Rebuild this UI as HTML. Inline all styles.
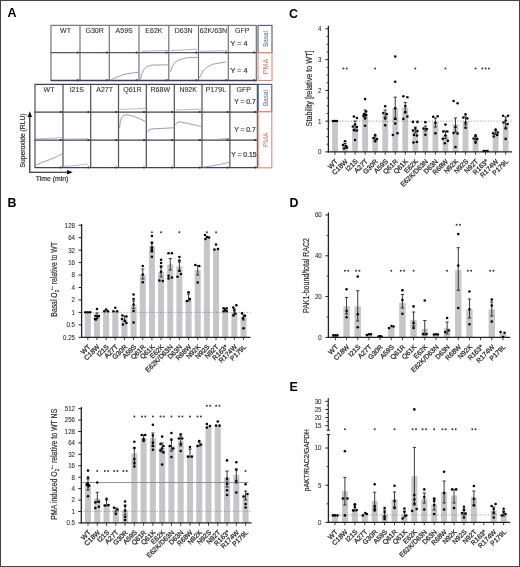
<!DOCTYPE html>
<html><head><meta charset="utf-8"><style>
html,body{margin:0;padding:0;background:#fff;width:520px;height:567px;overflow:hidden;}
svg{display:block;font-family:'Liberation Sans', sans-serif;will-change:transform;}

</style></head><body>
<svg width="520" height="567" viewBox="0 0 520 567">
<rect width="520" height="567" fill="#fff"/>
<rect x="0.50" y="0.50" width="519.00" height="566.00" fill="none" stroke="#444" stroke-width="1"/>
<text x="7.40" y="17.40" font-size="12.4" text-anchor="start" fill="#000" font-weight="bold">A</text>
<text x="7.60" y="207.10" font-size="12.4" text-anchor="start" fill="#000" font-weight="bold">B</text>
<text x="289.00" y="17.60" font-size="12.4" text-anchor="start" fill="#000" font-weight="bold">C</text>
<text x="289.40" y="207.30" font-size="12.4" text-anchor="start" fill="#000" font-weight="bold">D</text>
<text x="289.60" y="390.80" font-size="12.4" text-anchor="start" fill="#000" font-weight="bold">E</text>
<line x1="51.00" y1="25.40" x2="51.00" y2="80.50" stroke="#6e6e6e" stroke-width="1.15"/>
<line x1="80.00" y1="25.40" x2="80.00" y2="80.50" stroke="#6e6e6e" stroke-width="1.15"/>
<line x1="109.30" y1="25.40" x2="109.30" y2="80.50" stroke="#6e6e6e" stroke-width="1.15"/>
<line x1="139.00" y1="25.40" x2="139.00" y2="80.50" stroke="#6e6e6e" stroke-width="1.15"/>
<line x1="168.80" y1="25.40" x2="168.80" y2="80.50" stroke="#6e6e6e" stroke-width="1.15"/>
<line x1="198.50" y1="25.40" x2="198.50" y2="80.50" stroke="#6e6e6e" stroke-width="1.15"/>
<line x1="228.30" y1="25.40" x2="228.30" y2="80.50" stroke="#6e6e6e" stroke-width="1.15"/>
<line x1="256.30" y1="25.40" x2="256.30" y2="80.50" stroke="#6e6e6e" stroke-width="1.15"/>
<line x1="50.50" y1="25.40" x2="256.80" y2="25.40" stroke="#7a7a80" stroke-width="1.15"/>
<line x1="50.50" y1="52.60" x2="256.80" y2="52.60" stroke="#55586a" stroke-width="1.2"/>
<line x1="50.50" y1="80.50" x2="256.80" y2="80.50" stroke="#3a3d55" stroke-width="1.4"/>
<ellipse cx="77.70" cy="52.40" rx="1.2" ry="1.0" fill="#3a3a3a"/>
<ellipse cx="107.00" cy="52.40" rx="1.2" ry="1.0" fill="#3a3a3a"/>
<ellipse cx="136.70" cy="52.40" rx="1.2" ry="1.0" fill="#3a3a3a"/>
<ellipse cx="166.50" cy="52.40" rx="1.2" ry="1.0" fill="#3a3a3a"/>
<ellipse cx="196.20" cy="52.40" rx="1.2" ry="1.0" fill="#3a3a3a"/>
<ellipse cx="226.00" cy="52.40" rx="1.2" ry="1.0" fill="#3a3a3a"/>
<ellipse cx="254.00" cy="52.40" rx="1.2" ry="1.0" fill="#3a3a3a"/>
<ellipse cx="77.70" cy="80.30" rx="1.2" ry="1.0" fill="#3a3a3a"/>
<ellipse cx="107.00" cy="80.30" rx="1.2" ry="1.0" fill="#3a3a3a"/>
<ellipse cx="136.70" cy="80.30" rx="1.2" ry="1.0" fill="#3a3a3a"/>
<ellipse cx="166.50" cy="80.30" rx="1.2" ry="1.0" fill="#3a3a3a"/>
<ellipse cx="196.20" cy="80.30" rx="1.2" ry="1.0" fill="#3a3a3a"/>
<ellipse cx="226.00" cy="80.30" rx="1.2" ry="1.0" fill="#3a3a3a"/>
<ellipse cx="254.00" cy="80.30" rx="1.2" ry="1.0" fill="#3a3a3a"/>
<text x="65.50" y="33.00" font-size="7.0" text-anchor="middle" fill="#333" stroke="#333" stroke-width="0.1">WT</text>
<text x="94.65" y="33.00" font-size="7.0" text-anchor="middle" fill="#333" stroke="#333" stroke-width="0.1">G30R</text>
<text x="124.15" y="33.00" font-size="7.0" text-anchor="middle" fill="#333" stroke="#333" stroke-width="0.1">A59S</text>
<text x="153.90" y="33.00" font-size="7.0" text-anchor="middle" fill="#333" stroke="#333" stroke-width="0.1">E62K</text>
<text x="183.65" y="33.00" font-size="7.0" text-anchor="middle" fill="#333" stroke="#333" stroke-width="0.1">D63N</text>
<text x="213.40" y="33.00" font-size="7.0" text-anchor="middle" fill="#333" stroke="#333" stroke-width="0.1">62K/63N</text>
<text x="242.30" y="33.00" font-size="7.0" text-anchor="middle" fill="#333" stroke="#333" stroke-width="0.1">GFP</text>
<text x="230.60" y="46.00" font-size="7.2" text-anchor="start" fill="#333" stroke="#333" stroke-width="0.2">Y = 4</text>
<text x="230.60" y="73.00" font-size="7.2" text-anchor="start" fill="#333" stroke="#333" stroke-width="0.2">Y = 4</text>
<line x1="35.00" y1="84.40" x2="35.00" y2="167.60" stroke="#555" stroke-width="1.25"/>
<line x1="63.00" y1="84.40" x2="63.00" y2="167.60" stroke="#555" stroke-width="1.25"/>
<line x1="90.70" y1="84.40" x2="90.70" y2="167.60" stroke="#555" stroke-width="1.25"/>
<line x1="118.50" y1="84.40" x2="118.50" y2="167.60" stroke="#555" stroke-width="1.25"/>
<line x1="146.30" y1="84.40" x2="146.30" y2="167.60" stroke="#555" stroke-width="1.25"/>
<line x1="174.30" y1="84.40" x2="174.30" y2="167.60" stroke="#555" stroke-width="1.25"/>
<line x1="202.00" y1="84.40" x2="202.00" y2="167.60" stroke="#555" stroke-width="1.25"/>
<line x1="229.90" y1="84.40" x2="229.90" y2="167.60" stroke="#555" stroke-width="1.25"/>
<line x1="257.40" y1="84.40" x2="257.40" y2="167.60" stroke="#555" stroke-width="1.25"/>
<line x1="34.50" y1="84.40" x2="257.90" y2="84.40" stroke="#40435a" stroke-width="1.3"/>
<line x1="34.50" y1="112.10" x2="257.90" y2="112.10" stroke="#40435a" stroke-width="1.3"/>
<line x1="34.50" y1="140.20" x2="257.90" y2="140.20" stroke="#40435a" stroke-width="1.3"/>
<line x1="34.50" y1="167.60" x2="257.90" y2="167.60" stroke="#40435a" stroke-width="1.3"/>
<ellipse cx="60.70" cy="111.90" rx="1.2" ry="1.0" fill="#3a3a3a"/>
<ellipse cx="88.40" cy="111.90" rx="1.2" ry="1.0" fill="#3a3a3a"/>
<ellipse cx="116.20" cy="111.90" rx="1.2" ry="1.0" fill="#3a3a3a"/>
<ellipse cx="144.00" cy="111.90" rx="1.2" ry="1.0" fill="#3a3a3a"/>
<ellipse cx="172.00" cy="111.90" rx="1.2" ry="1.0" fill="#3a3a3a"/>
<ellipse cx="199.70" cy="111.90" rx="1.2" ry="1.0" fill="#3a3a3a"/>
<ellipse cx="227.60" cy="111.90" rx="1.2" ry="1.0" fill="#3a3a3a"/>
<ellipse cx="255.10" cy="111.90" rx="1.2" ry="1.0" fill="#3a3a3a"/>
<ellipse cx="60.70" cy="140.00" rx="1.2" ry="1.0" fill="#3a3a3a"/>
<ellipse cx="88.40" cy="140.00" rx="1.2" ry="1.0" fill="#3a3a3a"/>
<ellipse cx="116.20" cy="140.00" rx="1.2" ry="1.0" fill="#3a3a3a"/>
<ellipse cx="144.00" cy="140.00" rx="1.2" ry="1.0" fill="#3a3a3a"/>
<ellipse cx="172.00" cy="140.00" rx="1.2" ry="1.0" fill="#3a3a3a"/>
<ellipse cx="199.70" cy="140.00" rx="1.2" ry="1.0" fill="#3a3a3a"/>
<ellipse cx="227.60" cy="140.00" rx="1.2" ry="1.0" fill="#3a3a3a"/>
<ellipse cx="255.10" cy="140.00" rx="1.2" ry="1.0" fill="#3a3a3a"/>
<ellipse cx="60.70" cy="167.40" rx="1.2" ry="1.0" fill="#3a3a3a"/>
<ellipse cx="88.40" cy="167.40" rx="1.2" ry="1.0" fill="#3a3a3a"/>
<ellipse cx="116.20" cy="167.40" rx="1.2" ry="1.0" fill="#3a3a3a"/>
<ellipse cx="144.00" cy="167.40" rx="1.2" ry="1.0" fill="#3a3a3a"/>
<ellipse cx="172.00" cy="167.40" rx="1.2" ry="1.0" fill="#3a3a3a"/>
<ellipse cx="199.70" cy="167.40" rx="1.2" ry="1.0" fill="#3a3a3a"/>
<ellipse cx="227.60" cy="167.40" rx="1.2" ry="1.0" fill="#3a3a3a"/>
<ellipse cx="255.10" cy="167.40" rx="1.2" ry="1.0" fill="#3a3a3a"/>
<text x="49.00" y="92.00" font-size="7.0" text-anchor="middle" fill="#333" stroke="#333" stroke-width="0.1">WT</text>
<text x="76.85" y="92.00" font-size="7.0" text-anchor="middle" fill="#333" stroke="#333" stroke-width="0.1">I21S</text>
<text x="104.60" y="92.00" font-size="7.0" text-anchor="middle" fill="#333" stroke="#333" stroke-width="0.1">A27T</text>
<text x="132.40" y="92.00" font-size="7.0" text-anchor="middle" fill="#333" stroke="#333" stroke-width="0.1">Q61R</text>
<text x="160.30" y="92.00" font-size="7.0" text-anchor="middle" fill="#333" stroke="#333" stroke-width="0.1">R68W</text>
<text x="188.15" y="92.00" font-size="7.0" text-anchor="middle" fill="#333" stroke="#333" stroke-width="0.1">N92K</text>
<text x="215.95" y="92.00" font-size="7.0" text-anchor="middle" fill="#333" stroke="#333" stroke-width="0.1">P179L</text>
<text x="243.65" y="92.00" font-size="7.0" text-anchor="middle" fill="#333" stroke="#333" stroke-width="0.1">GFP</text>
<text x="255.80" y="104.30" font-size="6.8" text-anchor="end" fill="#333" stroke="#333" stroke-width="0.2">Y = 0.7</text>
<text x="255.80" y="131.80" font-size="6.8" text-anchor="end" fill="#333" stroke="#333" stroke-width="0.2">Y = 0.7</text>
<text x="256.60" y="157.20" font-size="6.8" text-anchor="end" fill="#333" stroke="#333" stroke-width="0.2">Y = 0.15</text>
<rect x="258.00" y="25.40" width="14.00" height="27.20" fill="none" stroke="#4a5890" stroke-width="1.1"/>
<text x="267.70" y="39.00" font-size="7.6" text-anchor="middle" fill="#5f6a98" transform="rotate(-90 267.70 39.00)" textLength="15.6" lengthAdjust="spacingAndGlyphs">Basal</text>
<rect x="258.00" y="52.60" width="14.00" height="27.90" fill="none" stroke="#e4887a" stroke-width="1.1"/>
<text x="267.70" y="66.55" font-size="7.6" text-anchor="middle" fill="#ec6f58" transform="rotate(-90 267.70 66.55)" textLength="15.4" lengthAdjust="spacingAndGlyphs">PMA</text>
<rect x="258.20" y="84.40" width="13.60" height="27.20" fill="none" stroke="#4a5890" stroke-width="1.1"/>
<text x="267.70" y="98.00" font-size="7.6" text-anchor="middle" fill="#5f6a98" transform="rotate(-90 267.70 98.00)" textLength="15.8" lengthAdjust="spacingAndGlyphs">Basal</text>
<rect x="258.20" y="111.60" width="13.60" height="56.20" fill="none" stroke="#e4887a" stroke-width="1.1"/>
<text x="267.70" y="139.70" font-size="7.6" text-anchor="middle" fill="#ec6f58" transform="rotate(-90 267.70 139.70)" textLength="14.6" lengthAdjust="spacingAndGlyphs">PMA</text>
<path d="M110.5,80.0 L116.0,77.5 L122.0,75.0 L128.0,73.5 L134.0,72.8 L138.5,72.2" fill="none" stroke="#9a9dbd" stroke-width="1.0"/>
<path d="M140.5,79.5 L141.8,74.0 L143.5,70.0 L146.0,67.2 L149.5,65.6 L154.0,65.0 L168.0,64.9" fill="none" stroke="#9a9dbd" stroke-width="1.0"/>
<path d="M142.0,51.3 L150.0,51.0 L160.0,50.7 L168.0,50.5" fill="none" stroke="#9a9dbd" stroke-width="0.8"/>
<path d="M170.5,72.0 L172.0,67.0 L175.0,62.5 L179.0,60.0 L184.0,58.3 L190.0,57.5 L198.0,57.3" fill="none" stroke="#9a9dbd" stroke-width="1.0"/>
<path d="M171.0,50.6 L180.0,50.1 L190.0,49.6 L197.0,49.2" fill="none" stroke="#9a9dbd" stroke-width="0.8"/>
<path d="M199.2,78.0 L201.0,74.5 L203.0,71.0 L205.5,68.5 L208.0,66.6 L212.7,64.3 L217.0,63.4 L222.0,62.6 L226.0,62.0" fill="none" stroke="#9a9dbd" stroke-width="1.0"/>
<path d="M200.0,51.3 L210.0,51.1 L220.0,50.9 L227.0,50.8" fill="none" stroke="#9a9dbd" stroke-width="0.8"/>
<path d="M36.0,165.0 L42.0,162.5 L50.0,159.5 L57.0,156.5 L62.5,153.5" fill="none" stroke="#9a9dbd" stroke-width="1.0"/>
<path d="M36.0,138.8 L45.0,138.5 L55.0,138.0 L60.0,137.3 L62.5,138.5" fill="none" stroke="#9a9dbd" stroke-width="0.7"/>
<path d="M64.0,166.2 L72.0,165.8 L80.0,165.0 L88.0,164.0" fill="none" stroke="#9a9dbd" stroke-width="0.7"/>
<path d="M64.0,139.2 L75.0,139.0 L88.0,138.6" fill="none" stroke="#9a9dbd" stroke-width="0.7"/>
<path d="M119.5,128.0 L120.3,122.0 L121.5,117.5 L124.0,115.2 L127.0,114.7 L132.0,116.0 L138.0,118.0 L145.5,121.5" fill="none" stroke="#9a9dbd" stroke-width="1.0"/>
<path d="M120.0,109.5 L130.0,109.0 L140.0,108.5 L146.0,108.4" fill="none" stroke="#9a9dbd" stroke-width="0.7"/>
<path d="M147.5,132.0 L149.0,130.0 L151.0,129.0 L160.0,128.5 L173.5,127.8" fill="none" stroke="#9a9dbd" stroke-width="1.0"/>
<path d="M175.5,124.5 L177.0,122.5 L180.0,121.8 L188.0,123.5 L196.0,125.3 L201.5,126.5" fill="none" stroke="#9a9dbd" stroke-width="1.0"/>
<path d="M176.0,110.0 L186.0,109.5 L196.0,109.2 L201.0,109.2" fill="none" stroke="#9a9dbd" stroke-width="0.7"/>
<path d="M203.5,167.0 L210.0,166.2 L218.0,164.8 L225.0,163.3 L229.0,162.4" fill="none" stroke="#9a9dbd" stroke-width="0.9"/>
<path d="M218.0,139.2 L224.0,138.8 L229.0,138.6" fill="none" stroke="#9a9dbd" stroke-width="0.8"/>
<line x1="29.80" y1="172.50" x2="29.80" y2="116.50" stroke="#111" stroke-width="1.1"/>
<path d="M27.6,117 L29.8,111.2 L32,117 Z" fill="#111"/>
<line x1="29.30" y1="172.30" x2="67.50" y2="172.30" stroke="#111" stroke-width="1.1"/>
<path d="M67,170.1 L72.8,172.3 L67,174.5 Z" fill="#111"/>
<text x="24.60" y="140.50" font-size="7.0" text-anchor="middle" fill="#333" transform="rotate(-90 24.60 140.50)" textLength="54" lengthAdjust="spacingAndGlyphs" stroke="#333" stroke-width="0.2">Superoxide (RLU)</text>
<text x="52.00" y="180.90" font-size="7.0" text-anchor="middle" fill="#333" textLength="32.5" lengthAdjust="spacingAndGlyphs" stroke="#333" stroke-width="0.2">Time (min)</text>
<rect x="84.80" y="312.40" width="6.00" height="24.90" fill="#c6c6c9" stroke="none" stroke-width="1"/>
<rect x="93.96" y="315.96" width="6.00" height="21.34" fill="#c6c6c9" stroke="none" stroke-width="1"/>
<rect x="103.12" y="311.18" width="6.00" height="26.12" fill="#c6c6c9" stroke="none" stroke-width="1"/>
<rect x="112.28" y="311.18" width="6.00" height="26.12" fill="#c6c6c9" stroke="none" stroke-width="1"/>
<rect x="121.44" y="318.30" width="6.00" height="19.00" fill="#c6c6c9" stroke="none" stroke-width="1"/>
<rect x="130.60" y="305.12" width="6.00" height="32.18" fill="#c6c6c9" stroke="none" stroke-width="1"/>
<rect x="139.76" y="274.61" width="6.00" height="62.69" fill="#c6c6c9" stroke="none" stroke-width="1"/>
<rect x="148.92" y="246.14" width="6.00" height="91.16" fill="#c6c6c9" stroke="none" stroke-width="1"/>
<rect x="158.08" y="271.96" width="6.00" height="65.34" fill="#c6c6c9" stroke="none" stroke-width="1"/>
<rect x="167.24" y="264.37" width="6.00" height="72.93" fill="#c6c6c9" stroke="none" stroke-width="1"/>
<rect x="176.40" y="266.33" width="6.00" height="70.97" fill="#c6c6c9" stroke="none" stroke-width="1"/>
<rect x="185.56" y="299.95" width="6.00" height="37.35" fill="#c6c6c9" stroke="none" stroke-width="1"/>
<rect x="194.72" y="270.00" width="6.00" height="67.30" fill="#c6c6c9" stroke="none" stroke-width="1"/>
<rect x="203.88" y="238.27" width="6.00" height="99.03" fill="#c6c6c9" stroke="none" stroke-width="1"/>
<rect x="213.04" y="249.60" width="6.00" height="87.70" fill="#c6c6c9" stroke="none" stroke-width="1"/>
<rect x="222.20" y="309.89" width="6.00" height="27.41" fill="#c6c6c9" stroke="none" stroke-width="1"/>
<rect x="231.36" y="312.40" width="6.00" height="24.90" fill="#c6c6c9" stroke="none" stroke-width="1"/>
<rect x="240.52" y="316.63" width="6.00" height="20.67" fill="#c6c6c9" stroke="none" stroke-width="1"/>
<line x1="81.60" y1="312.40" x2="250.50" y2="312.40" stroke="#888" stroke-width="0.8" stroke-dasharray="1.2,1.6"/>
<circle cx="85.40" cy="312.30" r="1.28" fill="#000"/>
<circle cx="87.80" cy="312.30" r="1.28" fill="#000"/>
<circle cx="90.20" cy="312.30" r="1.28" fill="#000"/>
<line x1="96.96" y1="313.00" x2="96.96" y2="318.50" stroke="#222" stroke-width="0.9"/>
<line x1="95.36" y1="313.00" x2="98.56" y2="313.00" stroke="#222" stroke-width="0.9"/>
<line x1="95.36" y1="318.50" x2="98.56" y2="318.50" stroke="#222" stroke-width="0.9"/>
<circle cx="96.96" cy="309.00" r="1.28" fill="#000"/>
<circle cx="95.46" cy="315.70" r="1.28" fill="#000"/>
<circle cx="97.46" cy="316.50" r="1.28" fill="#000"/>
<circle cx="98.96" cy="316.00" r="1.28" fill="#000"/>
<circle cx="94.96" cy="319.00" r="1.28" fill="#000"/>
<circle cx="95.96" cy="319.50" r="1.28" fill="#000"/>
<circle cx="106.12" cy="309.50" r="1.28" fill="#000"/>
<circle cx="104.32" cy="311.20" r="1.28" fill="#000"/>
<circle cx="107.92" cy="311.20" r="1.28" fill="#000"/>
<circle cx="115.28" cy="307.80" r="1.28" fill="#000"/>
<circle cx="113.48" cy="311.20" r="1.28" fill="#000"/>
<circle cx="117.08" cy="311.20" r="1.28" fill="#000"/>
<line x1="124.44" y1="316.00" x2="124.44" y2="321.00" stroke="#222" stroke-width="0.9"/>
<line x1="122.84" y1="316.00" x2="126.04" y2="316.00" stroke="#222" stroke-width="0.9"/>
<line x1="122.84" y1="321.00" x2="126.04" y2="321.00" stroke="#222" stroke-width="0.9"/>
<circle cx="122.44" cy="315.50" r="1.28" fill="#000"/>
<circle cx="126.44" cy="316.50" r="1.28" fill="#000"/>
<circle cx="121.94" cy="319.00" r="1.28" fill="#000"/>
<circle cx="124.94" cy="321.00" r="1.28" fill="#000"/>
<circle cx="122.94" cy="324.50" r="1.28" fill="#000"/>
<circle cx="126.44" cy="323.00" r="1.28" fill="#000"/>
<line x1="133.60" y1="301.00" x2="133.60" y2="308.50" stroke="#222" stroke-width="0.9"/>
<line x1="132.00" y1="301.00" x2="135.20" y2="301.00" stroke="#222" stroke-width="0.9"/>
<line x1="132.00" y1="308.50" x2="135.20" y2="308.50" stroke="#222" stroke-width="0.9"/>
<circle cx="133.60" cy="294.50" r="1.28" fill="#000"/>
<circle cx="133.60" cy="299.00" r="1.28" fill="#000"/>
<circle cx="133.60" cy="304.60" r="1.28" fill="#000"/>
<circle cx="133.60" cy="311.00" r="1.28" fill="#000"/>
<circle cx="133.60" cy="322.50" r="1.28" fill="#000"/>
<line x1="142.76" y1="269.00" x2="142.76" y2="279.00" stroke="#222" stroke-width="0.9"/>
<line x1="141.16" y1="269.00" x2="144.36" y2="269.00" stroke="#222" stroke-width="0.9"/>
<line x1="141.16" y1="279.00" x2="144.36" y2="279.00" stroke="#222" stroke-width="0.9"/>
<circle cx="142.76" cy="266.00" r="1.28" fill="#000"/>
<circle cx="142.76" cy="274.50" r="1.28" fill="#000"/>
<circle cx="142.76" cy="282.20" r="1.28" fill="#000"/>
<line x1="151.92" y1="242.00" x2="151.92" y2="252.00" stroke="#222" stroke-width="0.9"/>
<line x1="150.32" y1="242.00" x2="153.52" y2="242.00" stroke="#222" stroke-width="0.9"/>
<line x1="150.32" y1="252.00" x2="153.52" y2="252.00" stroke="#222" stroke-width="0.9"/>
<circle cx="151.92" cy="236.00" r="1.28" fill="#000"/>
<circle cx="151.92" cy="243.00" r="1.28" fill="#000"/>
<circle cx="151.92" cy="247.50" r="1.28" fill="#000"/>
<circle cx="151.92" cy="249.50" r="1.28" fill="#000"/>
<circle cx="151.92" cy="251.00" r="1.28" fill="#000"/>
<circle cx="151.92" cy="256.70" r="1.28" fill="#000"/>
<line x1="161.08" y1="266.00" x2="161.08" y2="277.00" stroke="#222" stroke-width="0.9"/>
<line x1="159.48" y1="266.00" x2="162.68" y2="266.00" stroke="#222" stroke-width="0.9"/>
<line x1="159.48" y1="277.00" x2="162.68" y2="277.00" stroke="#222" stroke-width="0.9"/>
<circle cx="161.08" cy="259.80" r="1.28" fill="#000"/>
<circle cx="161.08" cy="263.00" r="1.28" fill="#000"/>
<circle cx="161.08" cy="266.70" r="1.28" fill="#000"/>
<circle cx="161.08" cy="271.70" r="1.28" fill="#000"/>
<circle cx="159.38" cy="280.50" r="1.28" fill="#000"/>
<circle cx="162.78" cy="281.00" r="1.28" fill="#000"/>
<line x1="170.24" y1="258.50" x2="170.24" y2="270.00" stroke="#222" stroke-width="0.9"/>
<line x1="168.64" y1="258.50" x2="171.84" y2="258.50" stroke="#222" stroke-width="0.9"/>
<line x1="168.64" y1="270.00" x2="171.84" y2="270.00" stroke="#222" stroke-width="0.9"/>
<circle cx="168.54" cy="253.30" r="1.28" fill="#000"/>
<circle cx="171.94" cy="253.30" r="1.28" fill="#000"/>
<circle cx="168.54" cy="275.80" r="1.28" fill="#000"/>
<circle cx="168.54" cy="278.50" r="1.28" fill="#000"/>
<circle cx="171.94" cy="277.50" r="1.28" fill="#000"/>
<line x1="179.40" y1="262.00" x2="179.40" y2="271.00" stroke="#222" stroke-width="0.9"/>
<line x1="177.80" y1="262.00" x2="181.00" y2="262.00" stroke="#222" stroke-width="0.9"/>
<line x1="177.80" y1="271.00" x2="181.00" y2="271.00" stroke="#222" stroke-width="0.9"/>
<circle cx="179.40" cy="257.00" r="1.28" fill="#000"/>
<circle cx="179.40" cy="260.50" r="1.28" fill="#000"/>
<circle cx="179.40" cy="270.70" r="1.28" fill="#000"/>
<circle cx="177.50" cy="276.70" r="1.28" fill="#000"/>
<circle cx="181.00" cy="274.00" r="1.28" fill="#000"/>
<line x1="188.56" y1="294.00" x2="188.56" y2="301.00" stroke="#222" stroke-width="0.9"/>
<line x1="186.96" y1="294.00" x2="190.16" y2="294.00" stroke="#222" stroke-width="0.9"/>
<line x1="186.96" y1="301.00" x2="190.16" y2="301.00" stroke="#222" stroke-width="0.9"/>
<circle cx="188.56" cy="292.30" r="1.28" fill="#000"/>
<circle cx="186.86" cy="301.00" r="1.28" fill="#000"/>
<circle cx="189.86" cy="299.00" r="1.28" fill="#000"/>
<line x1="197.72" y1="265.50" x2="197.72" y2="275.00" stroke="#222" stroke-width="0.9"/>
<line x1="196.12" y1="265.50" x2="199.32" y2="265.50" stroke="#222" stroke-width="0.9"/>
<line x1="196.12" y1="275.00" x2="199.32" y2="275.00" stroke="#222" stroke-width="0.9"/>
<circle cx="195.32" cy="265.00" r="1.28" fill="#000"/>
<circle cx="199.32" cy="266.00" r="1.28" fill="#000"/>
<circle cx="197.72" cy="282.50" r="1.28" fill="#000"/>
<circle cx="204.98" cy="235.00" r="1.28" fill="#000"/>
<circle cx="206.98" cy="237.00" r="1.28" fill="#000"/>
<circle cx="208.98" cy="237.50" r="1.28" fill="#000"/>
<circle cx="205.48" cy="239.00" r="1.28" fill="#000"/>
<circle cx="216.04" cy="244.50" r="1.28" fill="#000"/>
<circle cx="214.44" cy="249.50" r="1.28" fill="#000"/>
<circle cx="217.94" cy="249.00" r="1.28" fill="#000"/>
<circle cx="223.70" cy="308.20" r="1.28" fill="#000"/>
<circle cx="226.70" cy="308.20" r="1.28" fill="#000"/>
<circle cx="225.20" cy="309.80" r="1.28" fill="#000"/>
<circle cx="223.70" cy="311.30" r="1.28" fill="#000"/>
<circle cx="226.70" cy="311.30" r="1.28" fill="#000"/>
<line x1="234.36" y1="309.00" x2="234.36" y2="314.00" stroke="#222" stroke-width="0.9"/>
<line x1="232.76" y1="309.00" x2="235.96" y2="309.00" stroke="#222" stroke-width="0.9"/>
<line x1="232.76" y1="314.00" x2="235.96" y2="314.00" stroke="#222" stroke-width="0.9"/>
<circle cx="236.36" cy="305.20" r="1.28" fill="#000"/>
<circle cx="233.36" cy="307.60" r="1.28" fill="#000"/>
<circle cx="234.36" cy="310.50" r="1.28" fill="#000"/>
<circle cx="235.36" cy="313.70" r="1.28" fill="#000"/>
<circle cx="233.36" cy="315.50" r="1.28" fill="#000"/>
<line x1="243.52" y1="315.00" x2="243.52" y2="320.00" stroke="#222" stroke-width="0.9"/>
<line x1="241.92" y1="315.00" x2="245.12" y2="315.00" stroke="#222" stroke-width="0.9"/>
<line x1="241.92" y1="320.00" x2="245.12" y2="320.00" stroke="#222" stroke-width="0.9"/>
<circle cx="242.02" cy="313.30" r="1.28" fill="#000"/>
<circle cx="245.02" cy="315.80" r="1.28" fill="#000"/>
<circle cx="243.02" cy="318.20" r="1.28" fill="#000"/>
<circle cx="243.52" cy="328.30" r="1.28" fill="#000"/>
<line x1="81.60" y1="224.00" x2="81.60" y2="337.90" stroke="#222" stroke-width="1.3"/>
<line x1="81.00" y1="337.30" x2="250.50" y2="337.30" stroke="#222" stroke-width="1.2"/>
<line x1="78.60" y1="337.30" x2="81.60" y2="337.30" stroke="#222" stroke-width="1.0"/>
<text x="75.00" y="339.70" font-size="7.3" text-anchor="end" fill="#333" textLength="11.93" lengthAdjust="spacingAndGlyphs" stroke="#333" stroke-width="0.1">0.25</text>
<line x1="78.60" y1="324.85" x2="81.60" y2="324.85" stroke="#222" stroke-width="1.0"/>
<text x="75.00" y="327.25" font-size="7.3" text-anchor="end" fill="#333" textLength="8.52" lengthAdjust="spacingAndGlyphs" stroke="#333" stroke-width="0.1">0.5</text>
<line x1="78.60" y1="312.40" x2="81.60" y2="312.40" stroke="#222" stroke-width="1.0"/>
<text x="75.00" y="314.80" font-size="7.3" text-anchor="end" fill="#333" textLength="3.41" lengthAdjust="spacingAndGlyphs" stroke="#333" stroke-width="0.1">1</text>
<line x1="78.60" y1="299.95" x2="81.60" y2="299.95" stroke="#222" stroke-width="1.0"/>
<text x="75.00" y="302.35" font-size="7.3" text-anchor="end" fill="#333" textLength="3.41" lengthAdjust="spacingAndGlyphs" stroke="#333" stroke-width="0.1">2</text>
<line x1="78.60" y1="287.50" x2="81.60" y2="287.50" stroke="#222" stroke-width="1.0"/>
<text x="75.00" y="289.90" font-size="7.3" text-anchor="end" fill="#333" textLength="3.41" lengthAdjust="spacingAndGlyphs" stroke="#333" stroke-width="0.1">4</text>
<line x1="78.60" y1="275.05" x2="81.60" y2="275.05" stroke="#222" stroke-width="1.0"/>
<text x="75.00" y="277.45" font-size="7.3" text-anchor="end" fill="#333" textLength="3.41" lengthAdjust="spacingAndGlyphs" stroke="#333" stroke-width="0.1">8</text>
<line x1="78.60" y1="262.60" x2="81.60" y2="262.60" stroke="#222" stroke-width="1.0"/>
<text x="75.00" y="265.00" font-size="7.3" text-anchor="end" fill="#333" textLength="6.82" lengthAdjust="spacingAndGlyphs" stroke="#333" stroke-width="0.1">16</text>
<line x1="78.60" y1="250.15" x2="81.60" y2="250.15" stroke="#222" stroke-width="1.0"/>
<text x="75.00" y="252.55" font-size="7.3" text-anchor="end" fill="#333" textLength="6.82" lengthAdjust="spacingAndGlyphs" stroke="#333" stroke-width="0.1">32</text>
<line x1="78.60" y1="237.70" x2="81.60" y2="237.70" stroke="#222" stroke-width="1.0"/>
<text x="75.00" y="240.10" font-size="7.3" text-anchor="end" fill="#333" textLength="6.82" lengthAdjust="spacingAndGlyphs" stroke="#333" stroke-width="0.1">64</text>
<line x1="78.60" y1="225.25" x2="81.60" y2="225.25" stroke="#222" stroke-width="1.0"/>
<text x="75.00" y="227.65" font-size="7.3" text-anchor="end" fill="#333" textLength="10.23" lengthAdjust="spacingAndGlyphs" stroke="#333" stroke-width="0.1">128</text>
<line x1="87.80" y1="337.30" x2="87.80" y2="340.10" stroke="#222" stroke-width="0.9"/>
<line x1="96.96" y1="337.30" x2="96.96" y2="340.10" stroke="#222" stroke-width="0.9"/>
<line x1="106.12" y1="337.30" x2="106.12" y2="340.10" stroke="#222" stroke-width="0.9"/>
<line x1="115.28" y1="337.30" x2="115.28" y2="340.10" stroke="#222" stroke-width="0.9"/>
<line x1="124.44" y1="337.30" x2="124.44" y2="340.10" stroke="#222" stroke-width="0.9"/>
<line x1="133.60" y1="337.30" x2="133.60" y2="340.10" stroke="#222" stroke-width="0.9"/>
<line x1="142.76" y1="337.30" x2="142.76" y2="340.10" stroke="#222" stroke-width="0.9"/>
<line x1="151.92" y1="337.30" x2="151.92" y2="340.10" stroke="#222" stroke-width="0.9"/>
<line x1="161.08" y1="337.30" x2="161.08" y2="340.10" stroke="#222" stroke-width="0.9"/>
<line x1="170.24" y1="337.30" x2="170.24" y2="340.10" stroke="#222" stroke-width="0.9"/>
<line x1="179.40" y1="337.30" x2="179.40" y2="340.10" stroke="#222" stroke-width="0.9"/>
<line x1="188.56" y1="337.30" x2="188.56" y2="340.10" stroke="#222" stroke-width="0.9"/>
<line x1="197.72" y1="337.30" x2="197.72" y2="340.10" stroke="#222" stroke-width="0.9"/>
<line x1="206.88" y1="337.30" x2="206.88" y2="340.10" stroke="#222" stroke-width="0.9"/>
<line x1="216.04" y1="337.30" x2="216.04" y2="340.10" stroke="#222" stroke-width="0.9"/>
<line x1="225.20" y1="337.30" x2="225.20" y2="340.10" stroke="#222" stroke-width="0.9"/>
<line x1="234.36" y1="337.30" x2="234.36" y2="340.10" stroke="#222" stroke-width="0.9"/>
<line x1="243.52" y1="337.30" x2="243.52" y2="340.10" stroke="#222" stroke-width="0.9"/>
<text x="91.00" y="347.30" font-size="6.8" text-anchor="end" fill="#333" transform="rotate(-45 91.00 347.30)" stroke="#333" stroke-width="0.28">WT</text>
<text x="100.16" y="347.30" font-size="6.8" text-anchor="end" fill="#333" transform="rotate(-45 100.16 347.30)" stroke="#333" stroke-width="0.28">C18W</text>
<text x="109.32" y="347.30" font-size="6.8" text-anchor="end" fill="#333" transform="rotate(-45 109.32 347.30)" stroke="#333" stroke-width="0.28">I21S</text>
<text x="118.48" y="347.30" font-size="6.8" text-anchor="end" fill="#333" transform="rotate(-45 118.48 347.30)" stroke="#333" stroke-width="0.28">A27T</text>
<text x="127.64" y="347.30" font-size="6.8" text-anchor="end" fill="#333" transform="rotate(-45 127.64 347.30)" stroke="#333" stroke-width="0.28">G30R</text>
<text x="136.80" y="347.30" font-size="6.8" text-anchor="end" fill="#333" transform="rotate(-45 136.80 347.30)" stroke="#333" stroke-width="0.28">A59S</text>
<text x="145.96" y="347.30" font-size="6.8" text-anchor="end" fill="#333" transform="rotate(-45 145.96 347.30)" stroke="#333" stroke-width="0.28">Q61R</text>
<text x="155.12" y="347.30" font-size="6.8" text-anchor="end" fill="#333" transform="rotate(-45 155.12 347.30)" stroke="#333" stroke-width="0.28">Q61K</text>
<text x="164.28" y="347.30" font-size="6.8" text-anchor="end" fill="#333" transform="rotate(-45 164.28 347.30)" stroke="#333" stroke-width="0.28">E62K</text>
<text x="173.44" y="347.30" font-size="6.8" text-anchor="end" fill="#333" transform="rotate(-45 173.44 347.30)" stroke="#333" stroke-width="0.28">E62K/D63N</text>
<text x="182.60" y="347.30" font-size="6.8" text-anchor="end" fill="#333" transform="rotate(-45 182.60 347.30)" stroke="#333" stroke-width="0.28">D63N</text>
<text x="191.76" y="347.30" font-size="6.8" text-anchor="end" fill="#333" transform="rotate(-45 191.76 347.30)" stroke="#333" stroke-width="0.28">R68W</text>
<text x="200.92" y="347.30" font-size="6.8" text-anchor="end" fill="#333" transform="rotate(-45 200.92 347.30)" stroke="#333" stroke-width="0.28">N92K</text>
<text x="210.08" y="347.30" font-size="6.8" text-anchor="end" fill="#333" transform="rotate(-45 210.08 347.30)" stroke="#333" stroke-width="0.28">N92S</text>
<text x="219.24" y="347.30" font-size="6.8" text-anchor="end" fill="#333" transform="rotate(-45 219.24 347.30)" stroke="#333" stroke-width="0.28">N92T</text>
<text x="228.40" y="347.30" font-size="6.8" text-anchor="end" fill="#333" transform="rotate(-45 228.40 347.30)" stroke="#333" stroke-width="0.28">R163*</text>
<text x="237.56" y="347.30" font-size="6.8" text-anchor="end" fill="#333" transform="rotate(-45 237.56 347.30)" stroke="#333" stroke-width="0.28">R174W</text>
<text x="246.72" y="347.30" font-size="6.8" text-anchor="end" fill="#333" transform="rotate(-45 246.72 347.30)" stroke="#333" stroke-width="0.28">P179L</text>
<text x="57.00" y="279.40" font-size="8.8" text-anchor="middle" fill="#333" transform="rotate(-90 57.00 279.40)" textLength="74.5" lengthAdjust="spacingAndGlyphs" stroke="#333" stroke-width="0.2">Basal O<tspan font-size="5.6" dy="2.0">2</tspan><tspan dy="-5.2" font-size="5.2">•−</tspan><tspan dy="3.2"> relative to WT</tspan></text>
<circle cx="151.92" cy="232.20" r="1.0" fill="#3a3a3a"/>
<circle cx="161.08" cy="232.20" r="1.0" fill="#3a3a3a"/>
<circle cx="179.40" cy="232.20" r="1.0" fill="#3a3a3a"/>
<circle cx="206.88" cy="232.20" r="1.0" fill="#3a3a3a"/>
<circle cx="216.04" cy="232.20" r="1.0" fill="#3a3a3a"/>
<rect x="85.00" y="484.96" width="6.00" height="37.94" fill="#c6c6c9" stroke="none" stroke-width="1"/>
<rect x="94.27" y="498.50" width="6.00" height="24.40" fill="#c6c6c9" stroke="none" stroke-width="1"/>
<rect x="103.54" y="504.27" width="6.00" height="18.63" fill="#c6c6c9" stroke="none" stroke-width="1"/>
<rect x="112.81" y="509.93" width="6.00" height="12.97" fill="#c6c6c9" stroke="none" stroke-width="1"/>
<rect x="122.08" y="510.38" width="6.00" height="12.52" fill="#c6c6c9" stroke="none" stroke-width="1"/>
<rect x="131.35" y="453.35" width="6.00" height="69.55" fill="#c6c6c9" stroke="none" stroke-width="1"/>
<rect x="140.62" y="438.44" width="6.00" height="84.46" fill="#c6c6c9" stroke="none" stroke-width="1"/>
<rect x="149.89" y="437.67" width="6.00" height="85.23" fill="#c6c6c9" stroke="none" stroke-width="1"/>
<rect x="159.16" y="447.66" width="6.00" height="75.24" fill="#c6c6c9" stroke="none" stroke-width="1"/>
<rect x="168.43" y="445.72" width="6.00" height="77.18" fill="#c6c6c9" stroke="none" stroke-width="1"/>
<rect x="177.70" y="440.75" width="6.00" height="82.15" fill="#c6c6c9" stroke="none" stroke-width="1"/>
<rect x="186.97" y="456.55" width="6.00" height="66.35" fill="#c6c6c9" stroke="none" stroke-width="1"/>
<rect x="196.24" y="444.83" width="6.00" height="78.07" fill="#c6c6c9" stroke="none" stroke-width="1"/>
<rect x="205.51" y="426.24" width="6.00" height="96.66" fill="#c6c6c9" stroke="none" stroke-width="1"/>
<rect x="214.78" y="425.87" width="6.00" height="97.03" fill="#c6c6c9" stroke="none" stroke-width="1"/>
<rect x="224.05" y="477.63" width="6.00" height="45.27" fill="#c6c6c9" stroke="none" stroke-width="1"/>
<rect x="233.32" y="474.91" width="6.00" height="47.99" fill="#c6c6c9" stroke="none" stroke-width="1"/>
<rect x="242.59" y="494.52" width="6.00" height="28.38" fill="#c6c6c9" stroke="none" stroke-width="1"/>
<line x1="81.30" y1="511.30" x2="251.50" y2="511.30" stroke="#888" stroke-width="0.8" stroke-dasharray="1.2,1.6"/>
<line x1="81.30" y1="482.50" x2="248.50" y2="482.50" stroke="#888" stroke-width="0.9"/>
<line x1="88.00" y1="479.00" x2="88.00" y2="490.00" stroke="#222" stroke-width="0.9"/>
<line x1="86.40" y1="479.00" x2="89.60" y2="479.00" stroke="#222" stroke-width="0.9"/>
<line x1="86.40" y1="490.00" x2="89.60" y2="490.00" stroke="#222" stroke-width="0.9"/>
<circle cx="88.00" cy="470.60" r="1.28" fill="#000"/>
<circle cx="88.00" cy="477.60" r="1.28" fill="#000"/>
<circle cx="86.70" cy="484.50" r="1.28" fill="#000"/>
<circle cx="88.80" cy="485.50" r="1.28" fill="#000"/>
<circle cx="87.50" cy="483.50" r="1.28" fill="#000"/>
<circle cx="88.00" cy="496.30" r="1.28" fill="#000"/>
<line x1="97.27" y1="492.30" x2="97.27" y2="502.00" stroke="#222" stroke-width="0.9"/>
<line x1="95.67" y1="492.30" x2="98.87" y2="492.30" stroke="#222" stroke-width="0.9"/>
<line x1="95.67" y1="502.00" x2="98.87" y2="502.00" stroke="#222" stroke-width="0.9"/>
<circle cx="97.27" cy="482.60" r="1.28" fill="#000"/>
<circle cx="95.37" cy="502.40" r="1.28" fill="#000"/>
<circle cx="98.87" cy="501.80" r="1.28" fill="#000"/>
<circle cx="95.37" cy="508.10" r="1.28" fill="#000"/>
<circle cx="98.87" cy="506.80" r="1.28" fill="#000"/>
<line x1="106.54" y1="500.00" x2="106.54" y2="506.00" stroke="#222" stroke-width="0.9"/>
<line x1="104.94" y1="500.00" x2="108.14" y2="500.00" stroke="#222" stroke-width="0.9"/>
<line x1="104.94" y1="506.00" x2="108.14" y2="506.00" stroke="#222" stroke-width="0.9"/>
<circle cx="106.54" cy="498.80" r="1.28" fill="#000"/>
<circle cx="104.74" cy="505.50" r="1.28" fill="#000"/>
<circle cx="108.54" cy="505.00" r="1.28" fill="#000"/>
<line x1="115.81" y1="508.00" x2="115.81" y2="512.00" stroke="#222" stroke-width="0.9"/>
<line x1="114.21" y1="508.00" x2="117.41" y2="508.00" stroke="#222" stroke-width="0.9"/>
<line x1="114.21" y1="512.00" x2="117.41" y2="512.00" stroke="#222" stroke-width="0.9"/>
<circle cx="114.01" cy="507.80" r="1.28" fill="#000"/>
<circle cx="117.51" cy="509.50" r="1.28" fill="#000"/>
<circle cx="115.81" cy="514.00" r="1.28" fill="#000"/>
<line x1="125.08" y1="505.00" x2="125.08" y2="515.00" stroke="#222" stroke-width="0.9"/>
<line x1="123.48" y1="505.00" x2="126.68" y2="505.00" stroke="#222" stroke-width="0.9"/>
<line x1="123.48" y1="515.00" x2="126.68" y2="515.00" stroke="#222" stroke-width="0.9"/>
<circle cx="125.08" cy="501.50" r="1.28" fill="#000"/>
<circle cx="125.08" cy="506.00" r="1.28" fill="#000"/>
<circle cx="125.08" cy="510.50" r="1.28" fill="#000"/>
<circle cx="125.08" cy="517.00" r="1.28" fill="#000"/>
<circle cx="125.08" cy="520.00" r="1.28" fill="#000"/>
<line x1="134.35" y1="448.00" x2="134.35" y2="462.00" stroke="#222" stroke-width="0.9"/>
<line x1="132.75" y1="448.00" x2="135.95" y2="448.00" stroke="#222" stroke-width="0.9"/>
<line x1="132.75" y1="462.00" x2="135.95" y2="462.00" stroke="#222" stroke-width="0.9"/>
<circle cx="134.35" cy="441.80" r="1.28" fill="#000"/>
<circle cx="134.35" cy="448.00" r="1.28" fill="#000"/>
<circle cx="134.35" cy="459.00" r="1.28" fill="#000"/>
<circle cx="134.35" cy="463.50" r="1.28" fill="#000"/>
<circle cx="134.35" cy="466.50" r="1.28" fill="#000"/>
<line x1="143.62" y1="435.00" x2="143.62" y2="440.00" stroke="#222" stroke-width="0.9"/>
<line x1="142.02" y1="435.00" x2="145.22" y2="435.00" stroke="#222" stroke-width="0.9"/>
<line x1="142.02" y1="440.00" x2="145.22" y2="440.00" stroke="#222" stroke-width="0.9"/>
<circle cx="141.72" cy="435.00" r="1.28" fill="#000"/>
<circle cx="145.22" cy="435.00" r="1.28" fill="#000"/>
<circle cx="143.62" cy="439.00" r="1.28" fill="#000"/>
<circle cx="143.62" cy="441.00" r="1.28" fill="#000"/>
<line x1="152.89" y1="433.00" x2="152.89" y2="446.00" stroke="#222" stroke-width="0.9"/>
<line x1="151.29" y1="433.00" x2="154.49" y2="433.00" stroke="#222" stroke-width="0.9"/>
<line x1="151.29" y1="446.00" x2="154.49" y2="446.00" stroke="#222" stroke-width="0.9"/>
<circle cx="152.89" cy="424.70" r="1.28" fill="#000"/>
<circle cx="152.89" cy="435.50" r="1.28" fill="#000"/>
<circle cx="152.89" cy="442.70" r="1.28" fill="#000"/>
<circle cx="152.89" cy="446.00" r="1.28" fill="#000"/>
<circle cx="152.89" cy="449.80" r="1.28" fill="#000"/>
<line x1="162.16" y1="443.00" x2="162.16" y2="452.00" stroke="#222" stroke-width="0.9"/>
<line x1="160.56" y1="443.00" x2="163.76" y2="443.00" stroke="#222" stroke-width="0.9"/>
<line x1="160.56" y1="452.00" x2="163.76" y2="452.00" stroke="#222" stroke-width="0.9"/>
<circle cx="162.16" cy="436.60" r="1.28" fill="#000"/>
<circle cx="160.46" cy="444.00" r="1.28" fill="#000"/>
<circle cx="163.46" cy="446.00" r="1.28" fill="#000"/>
<circle cx="161.96" cy="448.50" r="1.28" fill="#000"/>
<circle cx="160.46" cy="450.50" r="1.28" fill="#000"/>
<circle cx="163.46" cy="452.40" r="1.28" fill="#000"/>
<circle cx="162.16" cy="464.60" r="1.28" fill="#000"/>
<line x1="171.43" y1="439.00" x2="171.43" y2="451.00" stroke="#222" stroke-width="0.9"/>
<line x1="169.83" y1="439.00" x2="173.03" y2="439.00" stroke="#222" stroke-width="0.9"/>
<line x1="169.83" y1="451.00" x2="173.03" y2="451.00" stroke="#222" stroke-width="0.9"/>
<circle cx="171.43" cy="433.00" r="1.28" fill="#000"/>
<circle cx="171.43" cy="440.00" r="1.28" fill="#000"/>
<circle cx="169.73" cy="446.00" r="1.28" fill="#000"/>
<circle cx="173.23" cy="448.50" r="1.28" fill="#000"/>
<circle cx="171.43" cy="457.00" r="1.28" fill="#000"/>
<line x1="180.70" y1="436.00" x2="180.70" y2="446.00" stroke="#222" stroke-width="0.9"/>
<line x1="179.10" y1="436.00" x2="182.30" y2="436.00" stroke="#222" stroke-width="0.9"/>
<line x1="179.10" y1="446.00" x2="182.30" y2="446.00" stroke="#222" stroke-width="0.9"/>
<circle cx="180.70" cy="434.30" r="1.28" fill="#000"/>
<circle cx="178.90" cy="438.50" r="1.28" fill="#000"/>
<circle cx="182.20" cy="438.50" r="1.28" fill="#000"/>
<circle cx="180.70" cy="444.00" r="1.28" fill="#000"/>
<circle cx="180.70" cy="451.00" r="1.28" fill="#000"/>
<line x1="189.97" y1="449.00" x2="189.97" y2="457.00" stroke="#222" stroke-width="0.9"/>
<line x1="188.37" y1="449.00" x2="191.57" y2="449.00" stroke="#222" stroke-width="0.9"/>
<line x1="188.37" y1="457.00" x2="191.57" y2="457.00" stroke="#222" stroke-width="0.9"/>
<circle cx="189.97" cy="447.00" r="1.28" fill="#000"/>
<circle cx="187.97" cy="456.60" r="1.28" fill="#000"/>
<circle cx="191.97" cy="456.60" r="1.28" fill="#000"/>
<line x1="199.24" y1="442.00" x2="199.24" y2="446.00" stroke="#222" stroke-width="0.9"/>
<line x1="197.64" y1="442.00" x2="200.84" y2="442.00" stroke="#222" stroke-width="0.9"/>
<line x1="197.64" y1="446.00" x2="200.84" y2="446.00" stroke="#222" stroke-width="0.9"/>
<circle cx="199.24" cy="441.00" r="1.28" fill="#000"/>
<circle cx="197.54" cy="446.00" r="1.28" fill="#000"/>
<circle cx="201.04" cy="444.50" r="1.28" fill="#000"/>
<circle cx="206.91" cy="424.00" r="1.28" fill="#000"/>
<circle cx="209.91" cy="426.00" r="1.28" fill="#000"/>
<circle cx="206.91" cy="427.60" r="1.28" fill="#000"/>
<circle cx="217.78" cy="421.50" r="1.28" fill="#000"/>
<circle cx="216.08" cy="425.60" r="1.28" fill="#000"/>
<circle cx="219.58" cy="425.60" r="1.28" fill="#000"/>
<line x1="227.05" y1="471.00" x2="227.05" y2="487.00" stroke="#222" stroke-width="0.9"/>
<line x1="225.45" y1="471.00" x2="228.65" y2="471.00" stroke="#222" stroke-width="0.9"/>
<line x1="225.45" y1="487.00" x2="228.65" y2="487.00" stroke="#222" stroke-width="0.9"/>
<circle cx="227.05" cy="460.40" r="1.28" fill="#000"/>
<circle cx="227.05" cy="478.80" r="1.28" fill="#000"/>
<circle cx="227.05" cy="483.70" r="1.28" fill="#000"/>
<circle cx="227.05" cy="490.30" r="1.28" fill="#000"/>
<circle cx="227.05" cy="495.00" r="1.28" fill="#000"/>
<line x1="236.32" y1="469.00" x2="236.32" y2="483.00" stroke="#222" stroke-width="0.9"/>
<line x1="234.72" y1="469.00" x2="237.92" y2="469.00" stroke="#222" stroke-width="0.9"/>
<line x1="234.72" y1="483.00" x2="237.92" y2="483.00" stroke="#222" stroke-width="0.9"/>
<circle cx="236.32" cy="462.30" r="1.28" fill="#000"/>
<circle cx="236.32" cy="469.80" r="1.28" fill="#000"/>
<circle cx="236.32" cy="481.00" r="1.28" fill="#000"/>
<circle cx="236.32" cy="492.50" r="1.28" fill="#000"/>
<line x1="245.59" y1="491.00" x2="245.59" y2="500.00" stroke="#222" stroke-width="0.9"/>
<line x1="243.99" y1="491.00" x2="247.19" y2="491.00" stroke="#222" stroke-width="0.9"/>
<line x1="243.99" y1="500.00" x2="247.19" y2="500.00" stroke="#222" stroke-width="0.9"/>
<circle cx="245.59" cy="484.30" r="1.28" fill="#000"/>
<circle cx="243.49" cy="496.50" r="1.28" fill="#000"/>
<circle cx="247.49" cy="494.00" r="1.28" fill="#000"/>
<circle cx="245.59" cy="504.00" r="1.28" fill="#000"/>
<circle cx="245.59" cy="507.50" r="1.28" fill="#000"/>
<line x1="81.30" y1="407.00" x2="81.30" y2="523.50" stroke="#222" stroke-width="1.3"/>
<line x1="80.70" y1="522.90" x2="251.50" y2="522.90" stroke="#222" stroke-width="1.2"/>
<line x1="78.30" y1="522.93" x2="81.30" y2="522.93" stroke="#222" stroke-width="1.0"/>
<text x="75.00" y="525.33" font-size="7.3" text-anchor="end" fill="#333" textLength="8.52" lengthAdjust="spacingAndGlyphs" stroke="#333" stroke-width="0.1">0.5</text>
<line x1="78.30" y1="511.50" x2="81.30" y2="511.50" stroke="#222" stroke-width="1.0"/>
<text x="75.00" y="513.90" font-size="7.3" text-anchor="end" fill="#333" textLength="3.41" lengthAdjust="spacingAndGlyphs" stroke="#333" stroke-width="0.1">1</text>
<line x1="78.30" y1="500.07" x2="81.30" y2="500.07" stroke="#222" stroke-width="1.0"/>
<text x="75.00" y="502.47" font-size="7.3" text-anchor="end" fill="#333" textLength="3.41" lengthAdjust="spacingAndGlyphs" stroke="#333" stroke-width="0.1">2</text>
<line x1="78.30" y1="488.64" x2="81.30" y2="488.64" stroke="#222" stroke-width="1.0"/>
<text x="75.00" y="491.04" font-size="7.3" text-anchor="end" fill="#333" textLength="3.41" lengthAdjust="spacingAndGlyphs" stroke="#333" stroke-width="0.1">4</text>
<line x1="78.30" y1="477.21" x2="81.30" y2="477.21" stroke="#222" stroke-width="1.0"/>
<text x="75.00" y="479.61" font-size="7.3" text-anchor="end" fill="#333" textLength="3.41" lengthAdjust="spacingAndGlyphs" stroke="#333" stroke-width="0.1">8</text>
<line x1="78.30" y1="465.78" x2="81.30" y2="465.78" stroke="#222" stroke-width="1.0"/>
<text x="75.00" y="468.18" font-size="7.3" text-anchor="end" fill="#333" textLength="6.82" lengthAdjust="spacingAndGlyphs" stroke="#333" stroke-width="0.1">16</text>
<line x1="78.30" y1="454.35" x2="81.30" y2="454.35" stroke="#222" stroke-width="1.0"/>
<text x="75.00" y="456.75" font-size="7.3" text-anchor="end" fill="#333" textLength="6.82" lengthAdjust="spacingAndGlyphs" stroke="#333" stroke-width="0.1">32</text>
<line x1="78.30" y1="442.92" x2="81.30" y2="442.92" stroke="#222" stroke-width="1.0"/>
<text x="75.00" y="445.32" font-size="7.3" text-anchor="end" fill="#333" textLength="6.82" lengthAdjust="spacingAndGlyphs" stroke="#333" stroke-width="0.1">64</text>
<line x1="78.30" y1="431.49" x2="81.30" y2="431.49" stroke="#222" stroke-width="1.0"/>
<text x="75.00" y="433.89" font-size="7.3" text-anchor="end" fill="#333" textLength="10.23" lengthAdjust="spacingAndGlyphs" stroke="#333" stroke-width="0.1">128</text>
<line x1="78.30" y1="420.06" x2="81.30" y2="420.06" stroke="#222" stroke-width="1.0"/>
<text x="75.00" y="422.46" font-size="7.3" text-anchor="end" fill="#333" textLength="10.23" lengthAdjust="spacingAndGlyphs" stroke="#333" stroke-width="0.1">256</text>
<line x1="78.30" y1="408.63" x2="81.30" y2="408.63" stroke="#222" stroke-width="1.0"/>
<text x="75.00" y="411.03" font-size="7.3" text-anchor="end" fill="#333" textLength="10.23" lengthAdjust="spacingAndGlyphs" stroke="#333" stroke-width="0.1">512</text>
<line x1="88.00" y1="522.90" x2="88.00" y2="525.70" stroke="#222" stroke-width="0.9"/>
<line x1="97.27" y1="522.90" x2="97.27" y2="525.70" stroke="#222" stroke-width="0.9"/>
<line x1="106.54" y1="522.90" x2="106.54" y2="525.70" stroke="#222" stroke-width="0.9"/>
<line x1="115.81" y1="522.90" x2="115.81" y2="525.70" stroke="#222" stroke-width="0.9"/>
<line x1="125.08" y1="522.90" x2="125.08" y2="525.70" stroke="#222" stroke-width="0.9"/>
<line x1="134.35" y1="522.90" x2="134.35" y2="525.70" stroke="#222" stroke-width="0.9"/>
<line x1="143.62" y1="522.90" x2="143.62" y2="525.70" stroke="#222" stroke-width="0.9"/>
<line x1="152.89" y1="522.90" x2="152.89" y2="525.70" stroke="#222" stroke-width="0.9"/>
<line x1="162.16" y1="522.90" x2="162.16" y2="525.70" stroke="#222" stroke-width="0.9"/>
<line x1="171.43" y1="522.90" x2="171.43" y2="525.70" stroke="#222" stroke-width="0.9"/>
<line x1="180.70" y1="522.90" x2="180.70" y2="525.70" stroke="#222" stroke-width="0.9"/>
<line x1="189.97" y1="522.90" x2="189.97" y2="525.70" stroke="#222" stroke-width="0.9"/>
<line x1="199.24" y1="522.90" x2="199.24" y2="525.70" stroke="#222" stroke-width="0.9"/>
<line x1="208.51" y1="522.90" x2="208.51" y2="525.70" stroke="#222" stroke-width="0.9"/>
<line x1="217.78" y1="522.90" x2="217.78" y2="525.70" stroke="#222" stroke-width="0.9"/>
<line x1="227.05" y1="522.90" x2="227.05" y2="525.70" stroke="#222" stroke-width="0.9"/>
<line x1="236.32" y1="522.90" x2="236.32" y2="525.70" stroke="#222" stroke-width="0.9"/>
<line x1="245.59" y1="522.90" x2="245.59" y2="525.70" stroke="#222" stroke-width="0.9"/>
<text x="91.20" y="532.90" font-size="6.8" text-anchor="end" fill="#333" transform="rotate(-45 91.20 532.90)" stroke="#333" stroke-width="0.28">WT</text>
<text x="100.47" y="532.90" font-size="6.8" text-anchor="end" fill="#333" transform="rotate(-45 100.47 532.90)" stroke="#333" stroke-width="0.28">C18W</text>
<text x="109.74" y="532.90" font-size="6.8" text-anchor="end" fill="#333" transform="rotate(-45 109.74 532.90)" stroke="#333" stroke-width="0.28">I21S</text>
<text x="119.01" y="532.90" font-size="6.8" text-anchor="end" fill="#333" transform="rotate(-45 119.01 532.90)" stroke="#333" stroke-width="0.28">A27T</text>
<text x="128.28" y="532.90" font-size="6.8" text-anchor="end" fill="#333" transform="rotate(-45 128.28 532.90)" stroke="#333" stroke-width="0.28">G30R</text>
<text x="137.55" y="532.90" font-size="6.8" text-anchor="end" fill="#333" transform="rotate(-45 137.55 532.90)" stroke="#333" stroke-width="0.28">A59S</text>
<text x="146.82" y="532.90" font-size="6.8" text-anchor="end" fill="#333" transform="rotate(-45 146.82 532.90)" stroke="#333" stroke-width="0.28">Q61R</text>
<text x="156.09" y="532.90" font-size="6.8" text-anchor="end" fill="#333" transform="rotate(-45 156.09 532.90)" stroke="#333" stroke-width="0.28">Q61K</text>
<text x="165.36" y="532.90" font-size="6.8" text-anchor="end" fill="#333" transform="rotate(-45 165.36 532.90)" stroke="#333" stroke-width="0.28">E62K</text>
<text x="174.63" y="532.90" font-size="6.8" text-anchor="end" fill="#333" transform="rotate(-45 174.63 532.90)" stroke="#333" stroke-width="0.28">E62K/D63N</text>
<text x="183.90" y="532.90" font-size="6.8" text-anchor="end" fill="#333" transform="rotate(-45 183.90 532.90)" stroke="#333" stroke-width="0.28">D63N</text>
<text x="193.17" y="532.90" font-size="6.8" text-anchor="end" fill="#333" transform="rotate(-45 193.17 532.90)" stroke="#333" stroke-width="0.28">R68W</text>
<text x="202.44" y="532.90" font-size="6.8" text-anchor="end" fill="#333" transform="rotate(-45 202.44 532.90)" stroke="#333" stroke-width="0.28">N92K</text>
<text x="211.71" y="532.90" font-size="6.8" text-anchor="end" fill="#333" transform="rotate(-45 211.71 532.90)" stroke="#333" stroke-width="0.28">N92S</text>
<text x="220.98" y="532.90" font-size="6.8" text-anchor="end" fill="#333" transform="rotate(-45 220.98 532.90)" stroke="#333" stroke-width="0.28">N92T</text>
<text x="230.25" y="532.90" font-size="6.8" text-anchor="end" fill="#333" transform="rotate(-45 230.25 532.90)" stroke="#333" stroke-width="0.28">R163*</text>
<text x="239.52" y="532.90" font-size="6.8" text-anchor="end" fill="#333" transform="rotate(-45 239.52 532.90)" stroke="#333" stroke-width="0.28">R174W</text>
<text x="248.79" y="532.90" font-size="6.8" text-anchor="end" fill="#333" transform="rotate(-45 248.79 532.90)" stroke="#333" stroke-width="0.28">P179L</text>
<text x="57.00" y="464.20" font-size="8.8" text-anchor="middle" fill="#333" transform="rotate(-90 57.00 464.20)" textLength="111" lengthAdjust="spacingAndGlyphs" stroke="#333" stroke-width="0.2">PMA induced O<tspan font-size="5.6" dy="2.0">2</tspan><tspan dy="-5.2" font-size="5.2">•−</tspan><tspan dy="3.2"> relative to WT NS</tspan></text>
<circle cx="97.27" cy="471.00" r="1.0" fill="#3a3a3a"/>
<circle cx="104.89" cy="471.00" r="1.0" fill="#3a3a3a"/>
<circle cx="108.19" cy="471.00" r="1.0" fill="#3a3a3a"/>
<circle cx="114.16" cy="471.00" r="1.0" fill="#3a3a3a"/>
<circle cx="117.46" cy="471.00" r="1.0" fill="#3a3a3a"/>
<circle cx="123.43" cy="471.00" r="1.0" fill="#3a3a3a"/>
<circle cx="126.73" cy="471.00" r="1.0" fill="#3a3a3a"/>
<circle cx="134.35" cy="416.50" r="1.0" fill="#3a3a3a"/>
<circle cx="141.97" cy="416.50" r="1.0" fill="#3a3a3a"/>
<circle cx="145.27" cy="416.50" r="1.0" fill="#3a3a3a"/>
<circle cx="152.89" cy="416.50" r="1.0" fill="#3a3a3a"/>
<circle cx="160.51" cy="416.50" r="1.0" fill="#3a3a3a"/>
<circle cx="163.81" cy="416.50" r="1.0" fill="#3a3a3a"/>
<circle cx="171.43" cy="416.50" r="1.0" fill="#3a3a3a"/>
<circle cx="179.05" cy="416.50" r="1.0" fill="#3a3a3a"/>
<circle cx="182.35" cy="416.50" r="1.0" fill="#3a3a3a"/>
<circle cx="189.97" cy="416.50" r="1.0" fill="#3a3a3a"/>
<circle cx="197.59" cy="416.50" r="1.0" fill="#3a3a3a"/>
<circle cx="200.89" cy="416.50" r="1.0" fill="#3a3a3a"/>
<circle cx="206.86" cy="405.80" r="1.0" fill="#3a3a3a"/>
<circle cx="210.16" cy="405.80" r="1.0" fill="#3a3a3a"/>
<circle cx="216.13" cy="405.80" r="1.0" fill="#3a3a3a"/>
<circle cx="219.43" cy="405.80" r="1.0" fill="#3a3a3a"/>
<circle cx="245.59" cy="471.00" r="1.0" fill="#3a3a3a"/>
<path d="M88.4,483.0 L90.7,485.4 L88.4,487.8 L86.1,485.4 Z" fill="#000"/>
<rect x="332.10" y="121.15" width="5.80" height="30.75" fill="#c6c6c9" stroke="none" stroke-width="1"/>
<rect x="342.14" y="145.75" width="5.80" height="6.15" fill="#c6c6c9" stroke="none" stroke-width="1"/>
<rect x="352.18" y="126.69" width="5.80" height="25.22" fill="#c6c6c9" stroke="none" stroke-width="1"/>
<rect x="362.22" y="113.77" width="5.80" height="38.13" fill="#c6c6c9" stroke="none" stroke-width="1"/>
<rect x="372.26" y="138.06" width="5.80" height="13.84" fill="#c6c6c9" stroke="none" stroke-width="1"/>
<rect x="382.30" y="114.39" width="5.80" height="37.52" fill="#c6c6c9" stroke="none" stroke-width="1"/>
<rect x="392.34" y="108.24" width="5.80" height="43.66" fill="#c6c6c9" stroke="none" stroke-width="1"/>
<rect x="402.38" y="107.31" width="5.80" height="44.59" fill="#c6c6c9" stroke="none" stroke-width="1"/>
<rect x="412.42" y="129.76" width="5.80" height="22.14" fill="#c6c6c9" stroke="none" stroke-width="1"/>
<rect x="422.46" y="127.92" width="5.80" height="23.98" fill="#c6c6c9" stroke="none" stroke-width="1"/>
<rect x="432.50" y="122.07" width="5.80" height="29.83" fill="#c6c6c9" stroke="none" stroke-width="1"/>
<rect x="442.54" y="135.30" width="5.80" height="16.60" fill="#c6c6c9" stroke="none" stroke-width="1"/>
<rect x="452.58" y="124.23" width="5.80" height="27.67" fill="#c6c6c9" stroke="none" stroke-width="1"/>
<rect x="462.62" y="121.15" width="5.80" height="30.75" fill="#c6c6c9" stroke="none" stroke-width="1"/>
<rect x="472.66" y="138.68" width="5.80" height="13.22" fill="#c6c6c9" stroke="none" stroke-width="1"/>
<rect x="482.70" y="151.59" width="5.80" height="0.31" fill="#c6c6c9" stroke="none" stroke-width="1"/>
<rect x="492.74" y="131.30" width="5.80" height="20.60" fill="#c6c6c9" stroke="none" stroke-width="1"/>
<rect x="502.78" y="123.30" width="5.80" height="28.60" fill="#c6c6c9" stroke="none" stroke-width="1"/>
<line x1="328.40" y1="121.15" x2="512.00" y2="121.15" stroke="#888" stroke-width="0.8" stroke-dasharray="1.2,1.6"/>
<circle cx="333.00" cy="121.00" r="1.28" fill="#000"/>
<circle cx="335.00" cy="121.00" r="1.28" fill="#000"/>
<circle cx="337.00" cy="121.00" r="1.28" fill="#000"/>
<line x1="345.04" y1="143.50" x2="345.04" y2="148.50" stroke="#222" stroke-width="0.9"/>
<line x1="343.44" y1="143.50" x2="346.64" y2="143.50" stroke="#222" stroke-width="0.9"/>
<line x1="343.44" y1="148.50" x2="346.64" y2="148.50" stroke="#222" stroke-width="0.9"/>
<circle cx="345.04" cy="141.30" r="1.28" fill="#000"/>
<circle cx="343.04" cy="145.00" r="1.28" fill="#000"/>
<circle cx="346.04" cy="146.00" r="1.28" fill="#000"/>
<circle cx="344.04" cy="148.50" r="1.28" fill="#000"/>
<circle cx="347.04" cy="147.50" r="1.28" fill="#000"/>
<line x1="355.08" y1="121.00" x2="355.08" y2="131.00" stroke="#222" stroke-width="0.9"/>
<line x1="353.48" y1="121.00" x2="356.68" y2="121.00" stroke="#222" stroke-width="0.9"/>
<line x1="353.48" y1="131.00" x2="356.68" y2="131.00" stroke="#222" stroke-width="0.9"/>
<circle cx="353.88" cy="116.50" r="1.28" fill="#000"/>
<circle cx="356.88" cy="118.00" r="1.28" fill="#000"/>
<circle cx="355.08" cy="124.50" r="1.28" fill="#000"/>
<circle cx="352.88" cy="126.50" r="1.28" fill="#000"/>
<circle cx="356.88" cy="127.00" r="1.28" fill="#000"/>
<circle cx="353.88" cy="130.00" r="1.28" fill="#000"/>
<circle cx="356.88" cy="130.50" r="1.28" fill="#000"/>
<circle cx="355.08" cy="140.00" r="1.28" fill="#000"/>
<line x1="365.12" y1="110.00" x2="365.12" y2="117.00" stroke="#222" stroke-width="0.9"/>
<line x1="363.52" y1="110.00" x2="366.72" y2="110.00" stroke="#222" stroke-width="0.9"/>
<line x1="363.52" y1="117.00" x2="366.72" y2="117.00" stroke="#222" stroke-width="0.9"/>
<circle cx="365.12" cy="99.10" r="1.28" fill="#000"/>
<circle cx="366.12" cy="111.50" r="1.28" fill="#000"/>
<circle cx="364.12" cy="114.00" r="1.28" fill="#000"/>
<circle cx="366.12" cy="115.00" r="1.28" fill="#000"/>
<circle cx="363.62" cy="116.00" r="1.28" fill="#000"/>
<circle cx="365.12" cy="118.50" r="1.28" fill="#000"/>
<circle cx="365.12" cy="125.70" r="1.28" fill="#000"/>
<line x1="375.16" y1="136.00" x2="375.16" y2="140.00" stroke="#222" stroke-width="0.9"/>
<line x1="373.56" y1="136.00" x2="376.76" y2="136.00" stroke="#222" stroke-width="0.9"/>
<line x1="373.56" y1="140.00" x2="376.76" y2="140.00" stroke="#222" stroke-width="0.9"/>
<circle cx="375.16" cy="135.00" r="1.28" fill="#000"/>
<circle cx="373.46" cy="138.00" r="1.28" fill="#000"/>
<circle cx="376.96" cy="139.00" r="1.28" fill="#000"/>
<circle cx="375.16" cy="141.30" r="1.28" fill="#000"/>
<line x1="385.20" y1="110.00" x2="385.20" y2="117.00" stroke="#222" stroke-width="0.9"/>
<line x1="383.60" y1="110.00" x2="386.80" y2="110.00" stroke="#222" stroke-width="0.9"/>
<line x1="383.60" y1="117.00" x2="386.80" y2="117.00" stroke="#222" stroke-width="0.9"/>
<circle cx="385.20" cy="106.30" r="1.28" fill="#000"/>
<circle cx="383.30" cy="113.00" r="1.28" fill="#000"/>
<circle cx="386.80" cy="114.00" r="1.28" fill="#000"/>
<circle cx="385.20" cy="118.50" r="1.28" fill="#000"/>
<circle cx="385.20" cy="125.20" r="1.28" fill="#000"/>
<line x1="395.24" y1="97.20" x2="395.24" y2="119.50" stroke="#222" stroke-width="0.9"/>
<line x1="393.64" y1="97.20" x2="396.84" y2="97.20" stroke="#222" stroke-width="0.9"/>
<line x1="393.64" y1="119.50" x2="396.84" y2="119.50" stroke="#222" stroke-width="0.9"/>
<circle cx="395.24" cy="56.50" r="1.28" fill="#000"/>
<circle cx="395.24" cy="81.80" r="1.28" fill="#000"/>
<circle cx="395.24" cy="108.30" r="1.28" fill="#000"/>
<circle cx="395.24" cy="118.50" r="1.28" fill="#000"/>
<circle cx="395.24" cy="123.50" r="1.28" fill="#000"/>
<circle cx="392.84" cy="135.00" r="1.28" fill="#000"/>
<circle cx="397.54" cy="133.30" r="1.28" fill="#000"/>
<line x1="405.28" y1="102.50" x2="405.28" y2="113.00" stroke="#222" stroke-width="0.9"/>
<line x1="403.68" y1="102.50" x2="406.88" y2="102.50" stroke="#222" stroke-width="0.9"/>
<line x1="403.68" y1="113.00" x2="406.88" y2="113.00" stroke="#222" stroke-width="0.9"/>
<circle cx="403.38" cy="96.30" r="1.28" fill="#000"/>
<circle cx="407.38" cy="97.20" r="1.28" fill="#000"/>
<circle cx="405.28" cy="106.00" r="1.28" fill="#000"/>
<circle cx="405.28" cy="112.00" r="1.28" fill="#000"/>
<circle cx="403.38" cy="118.90" r="1.28" fill="#000"/>
<circle cx="407.38" cy="116.50" r="1.28" fill="#000"/>
<line x1="415.32" y1="127.00" x2="415.32" y2="133.00" stroke="#222" stroke-width="0.9"/>
<line x1="413.72" y1="127.00" x2="416.92" y2="127.00" stroke="#222" stroke-width="0.9"/>
<line x1="413.72" y1="133.00" x2="416.92" y2="133.00" stroke="#222" stroke-width="0.9"/>
<circle cx="412.92" cy="121.90" r="1.28" fill="#000"/>
<circle cx="417.42" cy="121.90" r="1.28" fill="#000"/>
<circle cx="415.32" cy="128.50" r="1.28" fill="#000"/>
<circle cx="412.92" cy="130.50" r="1.28" fill="#000"/>
<circle cx="417.42" cy="131.00" r="1.28" fill="#000"/>
<circle cx="413.92" cy="135.00" r="1.28" fill="#000"/>
<circle cx="416.92" cy="135.50" r="1.28" fill="#000"/>
<circle cx="413.42" cy="142.50" r="1.28" fill="#000"/>
<circle cx="416.92" cy="142.00" r="1.28" fill="#000"/>
<line x1="425.36" y1="126.00" x2="425.36" y2="131.00" stroke="#222" stroke-width="0.9"/>
<line x1="423.76" y1="126.00" x2="426.96" y2="126.00" stroke="#222" stroke-width="0.9"/>
<line x1="423.76" y1="131.00" x2="426.96" y2="131.00" stroke="#222" stroke-width="0.9"/>
<circle cx="425.36" cy="122.20" r="1.28" fill="#000"/>
<circle cx="423.56" cy="128.50" r="1.28" fill="#000"/>
<circle cx="426.76" cy="129.00" r="1.28" fill="#000"/>
<circle cx="425.36" cy="134.80" r="1.28" fill="#000"/>
<line x1="435.40" y1="118.00" x2="435.40" y2="127.00" stroke="#222" stroke-width="0.9"/>
<line x1="433.80" y1="118.00" x2="437.00" y2="118.00" stroke="#222" stroke-width="0.9"/>
<line x1="433.80" y1="127.00" x2="437.00" y2="127.00" stroke="#222" stroke-width="0.9"/>
<circle cx="433.20" cy="116.80" r="1.28" fill="#000"/>
<circle cx="437.70" cy="116.20" r="1.28" fill="#000"/>
<circle cx="435.40" cy="122.80" r="1.28" fill="#000"/>
<circle cx="435.40" cy="133.30" r="1.28" fill="#000"/>
<line x1="445.44" y1="131.00" x2="445.44" y2="138.50" stroke="#222" stroke-width="0.9"/>
<line x1="443.84" y1="131.00" x2="447.04" y2="131.00" stroke="#222" stroke-width="0.9"/>
<line x1="443.84" y1="138.50" x2="447.04" y2="138.50" stroke="#222" stroke-width="0.9"/>
<circle cx="445.44" cy="124.60" r="1.28" fill="#000"/>
<circle cx="443.34" cy="131.50" r="1.28" fill="#000"/>
<circle cx="447.34" cy="131.50" r="1.28" fill="#000"/>
<circle cx="445.44" cy="135.50" r="1.28" fill="#000"/>
<circle cx="442.84" cy="138.90" r="1.28" fill="#000"/>
<circle cx="447.84" cy="140.70" r="1.28" fill="#000"/>
<circle cx="444.84" cy="143.30" r="1.28" fill="#000"/>
<line x1="455.48" y1="118.00" x2="455.48" y2="132.00" stroke="#222" stroke-width="0.9"/>
<line x1="453.88" y1="118.00" x2="457.08" y2="118.00" stroke="#222" stroke-width="0.9"/>
<line x1="453.88" y1="132.00" x2="457.08" y2="132.00" stroke="#222" stroke-width="0.9"/>
<circle cx="453.58" cy="101.00" r="1.28" fill="#000"/>
<circle cx="457.58" cy="103.30" r="1.28" fill="#000"/>
<circle cx="455.48" cy="127.00" r="1.28" fill="#000"/>
<circle cx="453.58" cy="133.00" r="1.28" fill="#000"/>
<circle cx="457.58" cy="133.50" r="1.28" fill="#000"/>
<circle cx="455.48" cy="147.00" r="1.28" fill="#000"/>
<line x1="465.52" y1="117.00" x2="465.52" y2="125.00" stroke="#222" stroke-width="0.9"/>
<line x1="463.92" y1="117.00" x2="467.12" y2="117.00" stroke="#222" stroke-width="0.9"/>
<line x1="463.92" y1="125.00" x2="467.12" y2="125.00" stroke="#222" stroke-width="0.9"/>
<circle cx="465.52" cy="114.40" r="1.28" fill="#000"/>
<circle cx="463.32" cy="117.60" r="1.28" fill="#000"/>
<circle cx="467.32" cy="118.50" r="1.28" fill="#000"/>
<circle cx="465.52" cy="122.80" r="1.28" fill="#000"/>
<circle cx="465.52" cy="127.80" r="1.28" fill="#000"/>
<line x1="475.56" y1="136.50" x2="475.56" y2="141.00" stroke="#222" stroke-width="0.9"/>
<line x1="473.96" y1="136.50" x2="477.16" y2="136.50" stroke="#222" stroke-width="0.9"/>
<line x1="473.96" y1="141.00" x2="477.16" y2="141.00" stroke="#222" stroke-width="0.9"/>
<circle cx="475.56" cy="135.20" r="1.28" fill="#000"/>
<circle cx="473.66" cy="138.50" r="1.28" fill="#000"/>
<circle cx="477.16" cy="138.90" r="1.28" fill="#000"/>
<circle cx="475.56" cy="142.60" r="1.28" fill="#000"/>
<circle cx="483.60" cy="151.00" r="1.28" fill="#000"/>
<circle cx="485.60" cy="151.00" r="1.28" fill="#000"/>
<circle cx="487.60" cy="151.00" r="1.28" fill="#000"/>
<line x1="495.64" y1="130.50" x2="495.64" y2="134.50" stroke="#222" stroke-width="0.9"/>
<line x1="494.04" y1="130.50" x2="497.24" y2="130.50" stroke="#222" stroke-width="0.9"/>
<line x1="494.04" y1="134.50" x2="497.24" y2="134.50" stroke="#222" stroke-width="0.9"/>
<circle cx="495.64" cy="129.50" r="1.28" fill="#000"/>
<circle cx="493.24" cy="133.30" r="1.28" fill="#000"/>
<circle cx="497.74" cy="132.50" r="1.28" fill="#000"/>
<circle cx="493.74" cy="136.50" r="1.28" fill="#000"/>
<circle cx="497.24" cy="135.00" r="1.28" fill="#000"/>
<line x1="505.68" y1="117.00" x2="505.68" y2="128.00" stroke="#222" stroke-width="0.9"/>
<line x1="504.08" y1="117.00" x2="507.28" y2="117.00" stroke="#222" stroke-width="0.9"/>
<line x1="504.08" y1="128.00" x2="507.28" y2="128.00" stroke="#222" stroke-width="0.9"/>
<circle cx="503.08" cy="115.70" r="1.28" fill="#000"/>
<circle cx="508.08" cy="115.70" r="1.28" fill="#000"/>
<circle cx="505.68" cy="120.50" r="1.28" fill="#000"/>
<circle cx="503.58" cy="122.50" r="1.28" fill="#000"/>
<circle cx="507.58" cy="124.00" r="1.28" fill="#000"/>
<circle cx="505.68" cy="128.50" r="1.28" fill="#000"/>
<circle cx="505.68" cy="138.90" r="1.28" fill="#000"/>
<line x1="328.40" y1="25.80" x2="328.40" y2="152.50" stroke="#222" stroke-width="1.3"/>
<line x1="327.80" y1="151.90" x2="512.00" y2="151.90" stroke="#222" stroke-width="1.2"/>
<line x1="325.40" y1="151.90" x2="328.40" y2="151.90" stroke="#222" stroke-width="1.0"/>
<text x="321.30" y="154.30" font-size="7.3" text-anchor="end" fill="#333" textLength="3.41" lengthAdjust="spacingAndGlyphs" stroke="#333" stroke-width="0.1">0</text>
<line x1="325.40" y1="121.15" x2="328.40" y2="121.15" stroke="#222" stroke-width="1.0"/>
<text x="321.30" y="123.55" font-size="7.3" text-anchor="end" fill="#333" textLength="3.41" lengthAdjust="spacingAndGlyphs" stroke="#333" stroke-width="0.1">1</text>
<line x1="325.40" y1="90.40" x2="328.40" y2="90.40" stroke="#222" stroke-width="1.0"/>
<text x="321.30" y="92.80" font-size="7.3" text-anchor="end" fill="#333" textLength="3.41" lengthAdjust="spacingAndGlyphs" stroke="#333" stroke-width="0.1">2</text>
<line x1="325.40" y1="59.65" x2="328.40" y2="59.65" stroke="#222" stroke-width="1.0"/>
<text x="321.30" y="62.05" font-size="7.3" text-anchor="end" fill="#333" textLength="3.41" lengthAdjust="spacingAndGlyphs" stroke="#333" stroke-width="0.1">3</text>
<line x1="325.40" y1="28.90" x2="328.40" y2="28.90" stroke="#222" stroke-width="1.0"/>
<text x="321.30" y="31.30" font-size="7.3" text-anchor="end" fill="#333" textLength="3.41" lengthAdjust="spacingAndGlyphs" stroke="#333" stroke-width="0.1">4</text>
<line x1="326.60" y1="144.21" x2="328.40" y2="144.21" stroke="#222" stroke-width="0.9"/>
<line x1="326.60" y1="136.53" x2="328.40" y2="136.53" stroke="#222" stroke-width="0.9"/>
<line x1="326.60" y1="128.84" x2="328.40" y2="128.84" stroke="#222" stroke-width="0.9"/>
<line x1="326.60" y1="113.46" x2="328.40" y2="113.46" stroke="#222" stroke-width="0.9"/>
<line x1="326.60" y1="105.78" x2="328.40" y2="105.78" stroke="#222" stroke-width="0.9"/>
<line x1="326.60" y1="98.09" x2="328.40" y2="98.09" stroke="#222" stroke-width="0.9"/>
<line x1="326.60" y1="82.71" x2="328.40" y2="82.71" stroke="#222" stroke-width="0.9"/>
<line x1="326.60" y1="75.03" x2="328.40" y2="75.03" stroke="#222" stroke-width="0.9"/>
<line x1="326.60" y1="67.34" x2="328.40" y2="67.34" stroke="#222" stroke-width="0.9"/>
<line x1="326.60" y1="51.96" x2="328.40" y2="51.96" stroke="#222" stroke-width="0.9"/>
<line x1="326.60" y1="44.28" x2="328.40" y2="44.28" stroke="#222" stroke-width="0.9"/>
<line x1="326.60" y1="36.59" x2="328.40" y2="36.59" stroke="#222" stroke-width="0.9"/>
<line x1="335.00" y1="151.90" x2="335.00" y2="154.70" stroke="#222" stroke-width="0.9"/>
<line x1="345.04" y1="151.90" x2="345.04" y2="154.70" stroke="#222" stroke-width="0.9"/>
<line x1="355.08" y1="151.90" x2="355.08" y2="154.70" stroke="#222" stroke-width="0.9"/>
<line x1="365.12" y1="151.90" x2="365.12" y2="154.70" stroke="#222" stroke-width="0.9"/>
<line x1="375.16" y1="151.90" x2="375.16" y2="154.70" stroke="#222" stroke-width="0.9"/>
<line x1="385.20" y1="151.90" x2="385.20" y2="154.70" stroke="#222" stroke-width="0.9"/>
<line x1="395.24" y1="151.90" x2="395.24" y2="154.70" stroke="#222" stroke-width="0.9"/>
<line x1="405.28" y1="151.90" x2="405.28" y2="154.70" stroke="#222" stroke-width="0.9"/>
<line x1="415.32" y1="151.90" x2="415.32" y2="154.70" stroke="#222" stroke-width="0.9"/>
<line x1="425.36" y1="151.90" x2="425.36" y2="154.70" stroke="#222" stroke-width="0.9"/>
<line x1="435.40" y1="151.90" x2="435.40" y2="154.70" stroke="#222" stroke-width="0.9"/>
<line x1="445.44" y1="151.90" x2="445.44" y2="154.70" stroke="#222" stroke-width="0.9"/>
<line x1="455.48" y1="151.90" x2="455.48" y2="154.70" stroke="#222" stroke-width="0.9"/>
<line x1="465.52" y1="151.90" x2="465.52" y2="154.70" stroke="#222" stroke-width="0.9"/>
<line x1="475.56" y1="151.90" x2="475.56" y2="154.70" stroke="#222" stroke-width="0.9"/>
<line x1="485.60" y1="151.90" x2="485.60" y2="154.70" stroke="#222" stroke-width="0.9"/>
<line x1="495.64" y1="151.90" x2="495.64" y2="154.70" stroke="#222" stroke-width="0.9"/>
<line x1="505.68" y1="151.90" x2="505.68" y2="154.70" stroke="#222" stroke-width="0.9"/>
<text x="338.20" y="161.90" font-size="6.8" text-anchor="end" fill="#333" transform="rotate(-45 338.20 161.90)" stroke="#333" stroke-width="0.28">WT</text>
<text x="348.24" y="161.90" font-size="6.8" text-anchor="end" fill="#333" transform="rotate(-45 348.24 161.90)" stroke="#333" stroke-width="0.28">C18W</text>
<text x="358.28" y="161.90" font-size="6.8" text-anchor="end" fill="#333" transform="rotate(-45 358.28 161.90)" stroke="#333" stroke-width="0.28">I21S</text>
<text x="368.32" y="161.90" font-size="6.8" text-anchor="end" fill="#333" transform="rotate(-45 368.32 161.90)" stroke="#333" stroke-width="0.28">A27T</text>
<text x="378.36" y="161.90" font-size="6.8" text-anchor="end" fill="#333" transform="rotate(-45 378.36 161.90)" stroke="#333" stroke-width="0.28">G30R</text>
<text x="388.40" y="161.90" font-size="6.8" text-anchor="end" fill="#333" transform="rotate(-45 388.40 161.90)" stroke="#333" stroke-width="0.28">A59S</text>
<text x="398.44" y="161.90" font-size="6.8" text-anchor="end" fill="#333" transform="rotate(-45 398.44 161.90)" stroke="#333" stroke-width="0.28">Q61R</text>
<text x="408.48" y="161.90" font-size="6.8" text-anchor="end" fill="#333" transform="rotate(-45 408.48 161.90)" stroke="#333" stroke-width="0.28">Q61K</text>
<text x="418.52" y="161.90" font-size="6.8" text-anchor="end" fill="#333" transform="rotate(-45 418.52 161.90)" stroke="#333" stroke-width="0.28">E62K</text>
<text x="428.56" y="161.90" font-size="6.8" text-anchor="end" fill="#333" transform="rotate(-45 428.56 161.90)" stroke="#333" stroke-width="0.28">E62K/D63N</text>
<text x="438.60" y="161.90" font-size="6.8" text-anchor="end" fill="#333" transform="rotate(-45 438.60 161.90)" stroke="#333" stroke-width="0.28">D63N</text>
<text x="448.64" y="161.90" font-size="6.8" text-anchor="end" fill="#333" transform="rotate(-45 448.64 161.90)" stroke="#333" stroke-width="0.28">R68W</text>
<text x="458.68" y="161.90" font-size="6.8" text-anchor="end" fill="#333" transform="rotate(-45 458.68 161.90)" stroke="#333" stroke-width="0.28">N92K</text>
<text x="468.72" y="161.90" font-size="6.8" text-anchor="end" fill="#333" transform="rotate(-45 468.72 161.90)" stroke="#333" stroke-width="0.28">N92S</text>
<text x="478.76" y="161.90" font-size="6.8" text-anchor="end" fill="#333" transform="rotate(-45 478.76 161.90)" stroke="#333" stroke-width="0.28">N92T</text>
<text x="488.80" y="161.90" font-size="6.8" text-anchor="end" fill="#333" transform="rotate(-45 488.80 161.90)" stroke="#333" stroke-width="0.28">R163*</text>
<text x="498.84" y="161.90" font-size="6.8" text-anchor="end" fill="#333" transform="rotate(-45 498.84 161.90)" stroke="#333" stroke-width="0.28">R174W</text>
<text x="508.88" y="161.90" font-size="6.8" text-anchor="end" fill="#333" transform="rotate(-45 508.88 161.90)" stroke="#333" stroke-width="0.28">P179L</text>
<text x="312.00" y="88.40" font-size="8.3" text-anchor="middle" fill="#333" transform="rotate(-90 312.00 88.40)" textLength="76" lengthAdjust="spacingAndGlyphs" stroke="#333" stroke-width="0.2">Stability [relative to WT]</text>
<circle cx="343.39" cy="68.50" r="1.0" fill="#3a3a3a"/>
<circle cx="346.69" cy="68.50" r="1.0" fill="#3a3a3a"/>
<circle cx="375.16" cy="68.50" r="1.0" fill="#3a3a3a"/>
<circle cx="415.32" cy="68.50" r="1.0" fill="#3a3a3a"/>
<circle cx="445.44" cy="68.50" r="1.0" fill="#3a3a3a"/>
<circle cx="475.56" cy="68.50" r="1.0" fill="#3a3a3a"/>
<circle cx="482.30" cy="68.50" r="1.0" fill="#3a3a3a"/>
<circle cx="485.60" cy="68.50" r="1.0" fill="#3a3a3a"/>
<circle cx="488.90" cy="68.50" r="1.0" fill="#3a3a3a"/>
<rect x="332.20" y="335.36" width="6.40" height="2.04" fill="#c6c6c9" stroke="none" stroke-width="1"/>
<rect x="343.37" y="306.39" width="6.40" height="31.01" fill="#c6c6c9" stroke="none" stroke-width="1"/>
<rect x="354.54" y="306.39" width="6.40" height="31.01" fill="#c6c6c9" stroke="none" stroke-width="1"/>
<rect x="365.71" y="334.34" width="6.40" height="3.06" fill="#c6c6c9" stroke="none" stroke-width="1"/>
<rect x="376.88" y="336.79" width="6.40" height="0.61" fill="#c6c6c9" stroke="none" stroke-width="1"/>
<rect x="388.05" y="327.20" width="6.40" height="10.20" fill="#c6c6c9" stroke="none" stroke-width="1"/>
<rect x="399.22" y="302.72" width="6.40" height="34.68" fill="#c6c6c9" stroke="none" stroke-width="1"/>
<rect x="410.39" y="319.86" width="6.40" height="17.54" fill="#c6c6c9" stroke="none" stroke-width="1"/>
<rect x="421.56" y="328.83" width="6.40" height="8.57" fill="#c6c6c9" stroke="none" stroke-width="1"/>
<rect x="432.73" y="334.95" width="6.40" height="2.45" fill="#c6c6c9" stroke="none" stroke-width="1"/>
<rect x="443.90" y="328.22" width="6.40" height="9.18" fill="#c6c6c9" stroke="none" stroke-width="1"/>
<rect x="455.07" y="270.08" width="6.40" height="67.32" fill="#c6c6c9" stroke="none" stroke-width="1"/>
<rect x="466.24" y="309.45" width="6.40" height="27.95" fill="#c6c6c9" stroke="none" stroke-width="1"/>
<rect x="488.58" y="309.45" width="6.40" height="27.95" fill="#c6c6c9" stroke="none" stroke-width="1"/>
<rect x="499.75" y="333.32" width="6.40" height="4.08" fill="#c6c6c9" stroke="none" stroke-width="1"/>
<circle cx="333.40" cy="335.40" r="1.28" fill="#000"/>
<circle cx="335.40" cy="335.40" r="1.28" fill="#000"/>
<circle cx="337.40" cy="335.40" r="1.28" fill="#000"/>
<line x1="346.57" y1="297.40" x2="346.57" y2="314.00" stroke="#222" stroke-width="0.9"/>
<line x1="344.97" y1="297.40" x2="348.17" y2="297.40" stroke="#222" stroke-width="0.9"/>
<line x1="344.97" y1="314.00" x2="348.17" y2="314.00" stroke="#222" stroke-width="0.9"/>
<circle cx="346.57" cy="289.30" r="1.28" fill="#000"/>
<circle cx="346.57" cy="311.00" r="1.28" fill="#000"/>
<circle cx="346.57" cy="317.30" r="1.28" fill="#000"/>
<line x1="357.74" y1="290.70" x2="357.74" y2="321.00" stroke="#222" stroke-width="0.9"/>
<line x1="356.14" y1="290.70" x2="359.34" y2="290.70" stroke="#222" stroke-width="0.9"/>
<line x1="356.14" y1="321.00" x2="359.34" y2="321.00" stroke="#222" stroke-width="0.9"/>
<circle cx="357.74" cy="276.60" r="1.28" fill="#000"/>
<circle cx="357.74" cy="314.20" r="1.28" fill="#000"/>
<circle cx="357.74" cy="327.30" r="1.28" fill="#000"/>
<circle cx="366.91" cy="335.00" r="1.28" fill="#000"/>
<circle cx="368.91" cy="334.30" r="1.28" fill="#000"/>
<circle cx="370.91" cy="334.30" r="1.28" fill="#000"/>
<circle cx="378.58" cy="336.50" r="1.28" fill="#000"/>
<circle cx="380.08" cy="336.20" r="1.28" fill="#000"/>
<circle cx="381.58" cy="336.50" r="1.28" fill="#000"/>
<circle cx="389.05" cy="328.00" r="1.28" fill="#000"/>
<circle cx="391.55" cy="326.00" r="1.28" fill="#000"/>
<circle cx="393.55" cy="326.50" r="1.28" fill="#000"/>
<line x1="402.42" y1="294.50" x2="402.42" y2="308.00" stroke="#222" stroke-width="0.9"/>
<line x1="400.82" y1="294.50" x2="404.02" y2="294.50" stroke="#222" stroke-width="0.9"/>
<line x1="400.82" y1="308.00" x2="404.02" y2="308.00" stroke="#222" stroke-width="0.9"/>
<circle cx="402.42" cy="290.20" r="1.28" fill="#000"/>
<circle cx="402.42" cy="300.00" r="1.28" fill="#000"/>
<circle cx="402.42" cy="313.80" r="1.28" fill="#000"/>
<line x1="413.59" y1="312.00" x2="413.59" y2="326.00" stroke="#222" stroke-width="0.9"/>
<line x1="411.99" y1="312.00" x2="415.19" y2="312.00" stroke="#222" stroke-width="0.9"/>
<line x1="411.99" y1="326.00" x2="415.19" y2="326.00" stroke="#222" stroke-width="0.9"/>
<circle cx="413.59" cy="306.40" r="1.28" fill="#000"/>
<circle cx="413.59" cy="323.00" r="1.28" fill="#000"/>
<circle cx="413.59" cy="328.00" r="1.28" fill="#000"/>
<line x1="424.76" y1="320.50" x2="424.76" y2="335.00" stroke="#222" stroke-width="0.9"/>
<line x1="423.16" y1="320.50" x2="426.36" y2="320.50" stroke="#222" stroke-width="0.9"/>
<line x1="423.16" y1="335.00" x2="426.36" y2="335.00" stroke="#222" stroke-width="0.9"/>
<circle cx="424.76" cy="300.50" r="1.28" fill="#000"/>
<circle cx="423.06" cy="334.00" r="1.28" fill="#000"/>
<circle cx="426.56" cy="334.00" r="1.28" fill="#000"/>
<circle cx="433.93" cy="334.50" r="1.28" fill="#000"/>
<circle cx="435.93" cy="334.30" r="1.28" fill="#000"/>
<circle cx="437.93" cy="334.50" r="1.28" fill="#000"/>
<line x1="447.10" y1="322.00" x2="447.10" y2="334.00" stroke="#222" stroke-width="0.9"/>
<line x1="445.50" y1="322.00" x2="448.70" y2="322.00" stroke="#222" stroke-width="0.9"/>
<line x1="445.50" y1="334.00" x2="448.70" y2="334.00" stroke="#222" stroke-width="0.9"/>
<circle cx="447.10" cy="318.00" r="1.28" fill="#000"/>
<circle cx="445.20" cy="332.00" r="1.28" fill="#000"/>
<circle cx="448.70" cy="330.50" r="1.28" fill="#000"/>
<line x1="458.27" y1="247.70" x2="458.27" y2="290.30" stroke="#222" stroke-width="0.9"/>
<line x1="456.67" y1="247.70" x2="459.87" y2="247.70" stroke="#222" stroke-width="0.9"/>
<line x1="456.67" y1="290.30" x2="459.87" y2="290.30" stroke="#222" stroke-width="0.9"/>
<circle cx="458.27" cy="234.10" r="1.28" fill="#000"/>
<circle cx="458.27" cy="265.60" r="1.28" fill="#000"/>
<circle cx="458.27" cy="308.00" r="1.28" fill="#000"/>
<line x1="469.44" y1="299.00" x2="469.44" y2="318.00" stroke="#222" stroke-width="0.9"/>
<line x1="467.84" y1="299.00" x2="471.04" y2="299.00" stroke="#222" stroke-width="0.9"/>
<line x1="467.84" y1="318.00" x2="471.04" y2="318.00" stroke="#222" stroke-width="0.9"/>
<circle cx="469.44" cy="291.50" r="1.28" fill="#000"/>
<circle cx="469.44" cy="309.20" r="1.28" fill="#000"/>
<circle cx="469.44" cy="324.30" r="1.28" fill="#000"/>
<line x1="491.78" y1="302.00" x2="491.78" y2="316.00" stroke="#222" stroke-width="0.9"/>
<line x1="490.18" y1="302.00" x2="493.38" y2="302.00" stroke="#222" stroke-width="0.9"/>
<line x1="490.18" y1="316.00" x2="493.38" y2="316.00" stroke="#222" stroke-width="0.9"/>
<circle cx="491.78" cy="299.60" r="1.28" fill="#000"/>
<circle cx="491.78" cy="305.60" r="1.28" fill="#000"/>
<circle cx="491.78" cy="321.60" r="1.28" fill="#000"/>
<circle cx="500.55" cy="332.10" r="1.28" fill="#000"/>
<circle cx="504.55" cy="332.80" r="1.28" fill="#000"/>
<circle cx="502.95" cy="337.00" r="1.28" fill="#000"/>
<line x1="328.40" y1="212.50" x2="328.40" y2="338.00" stroke="#222" stroke-width="1.3"/>
<line x1="327.80" y1="337.40" x2="510.00" y2="337.40" stroke="#222" stroke-width="1.2"/>
<line x1="325.40" y1="337.40" x2="328.40" y2="337.40" stroke="#222" stroke-width="1.0"/>
<text x="321.70" y="339.80" font-size="7.3" text-anchor="end" fill="#333" textLength="3.41" lengthAdjust="spacingAndGlyphs" stroke="#333" stroke-width="0.1">0</text>
<line x1="325.40" y1="296.60" x2="328.40" y2="296.60" stroke="#222" stroke-width="1.0"/>
<text x="321.70" y="299.00" font-size="7.3" text-anchor="end" fill="#333" textLength="6.82" lengthAdjust="spacingAndGlyphs" stroke="#333" stroke-width="0.1">20</text>
<line x1="325.40" y1="255.80" x2="328.40" y2="255.80" stroke="#222" stroke-width="1.0"/>
<text x="321.70" y="258.20" font-size="7.3" text-anchor="end" fill="#333" textLength="6.82" lengthAdjust="spacingAndGlyphs" stroke="#333" stroke-width="0.1">40</text>
<line x1="325.40" y1="215.00" x2="328.40" y2="215.00" stroke="#222" stroke-width="1.0"/>
<text x="321.70" y="217.40" font-size="7.3" text-anchor="end" fill="#333" textLength="6.82" lengthAdjust="spacingAndGlyphs" stroke="#333" stroke-width="0.1">60</text>
<line x1="326.60" y1="317.00" x2="328.40" y2="317.00" stroke="#222" stroke-width="0.9"/>
<line x1="326.60" y1="276.20" x2="328.40" y2="276.20" stroke="#222" stroke-width="0.9"/>
<line x1="326.60" y1="235.40" x2="328.40" y2="235.40" stroke="#222" stroke-width="0.9"/>
<line x1="335.40" y1="337.40" x2="335.40" y2="340.20" stroke="#222" stroke-width="0.9"/>
<line x1="346.57" y1="337.40" x2="346.57" y2="340.20" stroke="#222" stroke-width="0.9"/>
<line x1="357.74" y1="337.40" x2="357.74" y2="340.20" stroke="#222" stroke-width="0.9"/>
<line x1="368.91" y1="337.40" x2="368.91" y2="340.20" stroke="#222" stroke-width="0.9"/>
<line x1="380.08" y1="337.40" x2="380.08" y2="340.20" stroke="#222" stroke-width="0.9"/>
<line x1="391.25" y1="337.40" x2="391.25" y2="340.20" stroke="#222" stroke-width="0.9"/>
<line x1="402.42" y1="337.40" x2="402.42" y2="340.20" stroke="#222" stroke-width="0.9"/>
<line x1="413.59" y1="337.40" x2="413.59" y2="340.20" stroke="#222" stroke-width="0.9"/>
<line x1="424.76" y1="337.40" x2="424.76" y2="340.20" stroke="#222" stroke-width="0.9"/>
<line x1="435.93" y1="337.40" x2="435.93" y2="340.20" stroke="#222" stroke-width="0.9"/>
<line x1="447.10" y1="337.40" x2="447.10" y2="340.20" stroke="#222" stroke-width="0.9"/>
<line x1="458.27" y1="337.40" x2="458.27" y2="340.20" stroke="#222" stroke-width="0.9"/>
<line x1="469.44" y1="337.40" x2="469.44" y2="340.20" stroke="#222" stroke-width="0.9"/>
<line x1="480.61" y1="337.40" x2="480.61" y2="340.20" stroke="#222" stroke-width="0.9"/>
<line x1="491.78" y1="337.40" x2="491.78" y2="340.20" stroke="#222" stroke-width="0.9"/>
<line x1="502.95" y1="337.40" x2="502.95" y2="340.20" stroke="#222" stroke-width="0.9"/>
<text x="338.60" y="347.40" font-size="6.8" text-anchor="end" fill="#333" transform="rotate(-45 338.60 347.40)" stroke="#333" stroke-width="0.28">WT</text>
<text x="349.77" y="347.40" font-size="6.8" text-anchor="end" fill="#333" transform="rotate(-45 349.77 347.40)" stroke="#333" stroke-width="0.28">C18W</text>
<text x="360.94" y="347.40" font-size="6.8" text-anchor="end" fill="#333" transform="rotate(-45 360.94 347.40)" stroke="#333" stroke-width="0.28">I21S</text>
<text x="372.11" y="347.40" font-size="6.8" text-anchor="end" fill="#333" transform="rotate(-45 372.11 347.40)" stroke="#333" stroke-width="0.28">A27T</text>
<text x="383.28" y="347.40" font-size="6.8" text-anchor="end" fill="#333" transform="rotate(-45 383.28 347.40)" stroke="#333" stroke-width="0.28">G30R</text>
<text x="394.45" y="347.40" font-size="6.8" text-anchor="end" fill="#333" transform="rotate(-45 394.45 347.40)" stroke="#333" stroke-width="0.28">A59S</text>
<text x="405.62" y="347.40" font-size="6.8" text-anchor="end" fill="#333" transform="rotate(-45 405.62 347.40)" stroke="#333" stroke-width="0.28">Q61R</text>
<text x="416.79" y="347.40" font-size="6.8" text-anchor="end" fill="#333" transform="rotate(-45 416.79 347.40)" stroke="#333" stroke-width="0.28">Q61K</text>
<text x="427.96" y="347.40" font-size="6.8" text-anchor="end" fill="#333" transform="rotate(-45 427.96 347.40)" stroke="#333" stroke-width="0.28">E62K</text>
<text x="439.13" y="347.40" font-size="6.8" text-anchor="end" fill="#333" transform="rotate(-45 439.13 347.40)" stroke="#333" stroke-width="0.28">E62K/D63N</text>
<text x="450.30" y="347.40" font-size="6.8" text-anchor="end" fill="#333" transform="rotate(-45 450.30 347.40)" stroke="#333" stroke-width="0.28">D63N</text>
<text x="461.47" y="347.40" font-size="6.8" text-anchor="end" fill="#333" transform="rotate(-45 461.47 347.40)" stroke="#333" stroke-width="0.28">R68W</text>
<text x="472.64" y="347.40" font-size="6.8" text-anchor="end" fill="#333" transform="rotate(-45 472.64 347.40)" stroke="#333" stroke-width="0.28">N92K</text>
<text x="483.81" y="347.40" font-size="6.8" text-anchor="end" fill="#333" transform="rotate(-45 483.81 347.40)" stroke="#333" stroke-width="0.28">R163*</text>
<text x="494.98" y="347.40" font-size="6.8" text-anchor="end" fill="#333" transform="rotate(-45 494.98 347.40)" stroke="#333" stroke-width="0.28">R174W</text>
<text x="506.15" y="347.40" font-size="6.8" text-anchor="end" fill="#333" transform="rotate(-45 506.15 347.40)" stroke="#333" stroke-width="0.28">P179L</text>
<text x="308.90" y="275.50" font-size="8.6" text-anchor="middle" fill="#333" transform="rotate(-90 308.90 275.50)" textLength="75" lengthAdjust="spacingAndGlyphs" stroke="#333" stroke-width="0.2">PAK1-bound/total RAC2</text>
<circle cx="344.92" cy="270.70" r="1.0" fill="#3a3a3a"/>
<circle cx="348.22" cy="270.70" r="1.0" fill="#3a3a3a"/>
<circle cx="356.09" cy="270.70" r="1.0" fill="#3a3a3a"/>
<circle cx="359.39" cy="270.70" r="1.0" fill="#3a3a3a"/>
<circle cx="391.25" cy="270.70" r="1.0" fill="#3a3a3a"/>
<circle cx="400.77" cy="270.70" r="1.0" fill="#3a3a3a"/>
<circle cx="404.07" cy="270.70" r="1.0" fill="#3a3a3a"/>
<circle cx="413.59" cy="270.70" r="1.0" fill="#3a3a3a"/>
<circle cx="447.10" cy="270.70" r="1.0" fill="#3a3a3a"/>
<circle cx="456.62" cy="224.80" r="1.0" fill="#3a3a3a"/>
<circle cx="459.92" cy="224.80" r="1.0" fill="#3a3a3a"/>
<circle cx="467.79" cy="270.70" r="1.0" fill="#3a3a3a"/>
<circle cx="471.09" cy="270.70" r="1.0" fill="#3a3a3a"/>
<circle cx="490.13" cy="270.70" r="1.0" fill="#3a3a3a"/>
<circle cx="493.43" cy="270.70" r="1.0" fill="#3a3a3a"/>
<rect x="332.00" y="514.96" width="6.00" height="7.44" fill="#c6c6c9" stroke="none" stroke-width="1"/>
<rect x="341.92" y="491.15" width="6.00" height="31.25" fill="#c6c6c9" stroke="none" stroke-width="1"/>
<rect x="351.84" y="509.75" width="6.00" height="12.65" fill="#c6c6c9" stroke="none" stroke-width="1"/>
<rect x="361.76" y="514.22" width="6.00" height="8.18" fill="#c6c6c9" stroke="none" stroke-width="1"/>
<rect x="371.68" y="500.82" width="6.00" height="21.58" fill="#c6c6c9" stroke="none" stroke-width="1"/>
<rect x="381.60" y="513.47" width="6.00" height="8.93" fill="#c6c6c9" stroke="none" stroke-width="1"/>
<rect x="391.52" y="499.34" width="6.00" height="23.06" fill="#c6c6c9" stroke="none" stroke-width="1"/>
<rect x="401.44" y="514.22" width="6.00" height="8.18" fill="#c6c6c9" stroke="none" stroke-width="1"/>
<rect x="411.36" y="476.27" width="6.00" height="46.13" fill="#c6c6c9" stroke="none" stroke-width="1"/>
<rect x="421.28" y="498.59" width="6.00" height="23.81" fill="#c6c6c9" stroke="none" stroke-width="1"/>
<rect x="431.20" y="504.54" width="6.00" height="17.86" fill="#c6c6c9" stroke="none" stroke-width="1"/>
<rect x="441.12" y="491.90" width="6.00" height="30.50" fill="#c6c6c9" stroke="none" stroke-width="1"/>
<rect x="451.04" y="495.62" width="6.00" height="26.78" fill="#c6c6c9" stroke="none" stroke-width="1"/>
<rect x="460.96" y="511.98" width="6.00" height="10.42" fill="#c6c6c9" stroke="none" stroke-width="1"/>
<rect x="470.88" y="497.10" width="6.00" height="25.30" fill="#c6c6c9" stroke="none" stroke-width="1"/>
<rect x="490.72" y="510.50" width="6.00" height="11.90" fill="#c6c6c9" stroke="none" stroke-width="1"/>
<rect x="500.64" y="513.47" width="6.00" height="8.93" fill="#c6c6c9" stroke="none" stroke-width="1"/>
<line x1="328.40" y1="514.96" x2="510.20" y2="514.96" stroke="#888" stroke-width="0.8" stroke-dasharray="1.2,1.6"/>
<circle cx="333.00" cy="515.40" r="1.28" fill="#000"/>
<circle cx="335.00" cy="515.40" r="1.28" fill="#000"/>
<circle cx="337.50" cy="515.40" r="1.28" fill="#000"/>
<line x1="344.92" y1="477.40" x2="344.92" y2="505.00" stroke="#222" stroke-width="0.9"/>
<line x1="343.32" y1="477.40" x2="346.52" y2="477.40" stroke="#222" stroke-width="0.9"/>
<line x1="343.32" y1="505.00" x2="346.52" y2="505.00" stroke="#222" stroke-width="0.9"/>
<circle cx="344.92" cy="451.30" r="1.28" fill="#000"/>
<circle cx="342.92" cy="498.50" r="1.28" fill="#000"/>
<circle cx="347.42" cy="498.50" r="1.28" fill="#000"/>
<circle cx="344.92" cy="515.40" r="1.28" fill="#000"/>
<line x1="354.84" y1="505.00" x2="354.84" y2="511.00" stroke="#222" stroke-width="0.9"/>
<line x1="353.24" y1="505.00" x2="356.44" y2="505.00" stroke="#222" stroke-width="0.9"/>
<line x1="353.24" y1="511.00" x2="356.44" y2="511.00" stroke="#222" stroke-width="0.9"/>
<circle cx="354.84" cy="504.30" r="1.28" fill="#000"/>
<circle cx="354.84" cy="507.00" r="1.28" fill="#000"/>
<circle cx="353.14" cy="510.40" r="1.28" fill="#000"/>
<circle cx="356.64" cy="510.00" r="1.28" fill="#000"/>
<circle cx="362.76" cy="515.40" r="1.28" fill="#000"/>
<circle cx="365.26" cy="513.00" r="1.28" fill="#000"/>
<circle cx="366.76" cy="514.00" r="1.28" fill="#000"/>
<line x1="374.68" y1="492.20" x2="374.68" y2="510.00" stroke="#222" stroke-width="0.9"/>
<line x1="373.08" y1="492.20" x2="376.28" y2="492.20" stroke="#222" stroke-width="0.9"/>
<line x1="373.08" y1="510.00" x2="376.28" y2="510.00" stroke="#222" stroke-width="0.9"/>
<circle cx="374.68" cy="484.30" r="1.28" fill="#000"/>
<circle cx="374.68" cy="506.00" r="1.28" fill="#000"/>
<circle cx="374.68" cy="508.50" r="1.28" fill="#000"/>
<circle cx="374.68" cy="510.50" r="1.28" fill="#000"/>
<line x1="384.60" y1="510.00" x2="384.60" y2="517.00" stroke="#222" stroke-width="0.9"/>
<line x1="383.00" y1="510.00" x2="386.20" y2="510.00" stroke="#222" stroke-width="0.9"/>
<line x1="383.00" y1="517.00" x2="386.20" y2="517.00" stroke="#222" stroke-width="0.9"/>
<circle cx="384.60" cy="508.00" r="1.28" fill="#000"/>
<circle cx="384.60" cy="512.00" r="1.28" fill="#000"/>
<circle cx="384.60" cy="516.50" r="1.28" fill="#000"/>
<circle cx="384.60" cy="519.00" r="1.28" fill="#000"/>
<line x1="394.52" y1="492.00" x2="394.52" y2="507.00" stroke="#222" stroke-width="0.9"/>
<line x1="392.92" y1="492.00" x2="396.12" y2="492.00" stroke="#222" stroke-width="0.9"/>
<line x1="392.92" y1="507.00" x2="396.12" y2="507.00" stroke="#222" stroke-width="0.9"/>
<circle cx="394.52" cy="485.70" r="1.28" fill="#000"/>
<circle cx="394.52" cy="501.00" r="1.28" fill="#000"/>
<circle cx="394.52" cy="508.00" r="1.28" fill="#000"/>
<line x1="404.44" y1="511.00" x2="404.44" y2="517.00" stroke="#222" stroke-width="0.9"/>
<line x1="402.84" y1="511.00" x2="406.04" y2="511.00" stroke="#222" stroke-width="0.9"/>
<line x1="402.84" y1="517.00" x2="406.04" y2="517.00" stroke="#222" stroke-width="0.9"/>
<circle cx="404.44" cy="508.50" r="1.28" fill="#000"/>
<circle cx="404.44" cy="512.00" r="1.28" fill="#000"/>
<circle cx="406.14" cy="515.50" r="1.28" fill="#000"/>
<circle cx="402.64" cy="518.50" r="1.28" fill="#000"/>
<line x1="414.36" y1="447.40" x2="414.36" y2="505.00" stroke="#222" stroke-width="0.9"/>
<line x1="412.76" y1="447.40" x2="415.96" y2="447.40" stroke="#222" stroke-width="0.9"/>
<line x1="412.76" y1="505.00" x2="415.96" y2="505.00" stroke="#222" stroke-width="0.9"/>
<circle cx="414.36" cy="409.40" r="1.28" fill="#000"/>
<circle cx="414.36" cy="495.00" r="1.28" fill="#000"/>
<circle cx="414.36" cy="499.50" r="1.28" fill="#000"/>
<circle cx="414.36" cy="503.60" r="1.28" fill="#000"/>
<circle cx="416.66" cy="509.00" r="1.28" fill="#000"/>
<circle cx="412.16" cy="511.00" r="1.28" fill="#000"/>
<line x1="424.28" y1="493.00" x2="424.28" y2="503.00" stroke="#222" stroke-width="0.9"/>
<line x1="422.68" y1="493.00" x2="425.88" y2="493.00" stroke="#222" stroke-width="0.9"/>
<line x1="422.68" y1="503.00" x2="425.88" y2="503.00" stroke="#222" stroke-width="0.9"/>
<circle cx="424.28" cy="489.40" r="1.28" fill="#000"/>
<circle cx="424.28" cy="497.00" r="1.28" fill="#000"/>
<circle cx="424.28" cy="509.50" r="1.28" fill="#000"/>
<line x1="434.20" y1="499.00" x2="434.20" y2="510.00" stroke="#222" stroke-width="0.9"/>
<line x1="432.60" y1="499.00" x2="435.80" y2="499.00" stroke="#222" stroke-width="0.9"/>
<line x1="432.60" y1="510.00" x2="435.80" y2="510.00" stroke="#222" stroke-width="0.9"/>
<circle cx="434.20" cy="498.50" r="1.28" fill="#000"/>
<circle cx="434.20" cy="501.00" r="1.28" fill="#000"/>
<circle cx="434.20" cy="505.00" r="1.28" fill="#000"/>
<circle cx="434.20" cy="514.00" r="1.28" fill="#000"/>
<line x1="444.12" y1="481.00" x2="444.12" y2="503.00" stroke="#222" stroke-width="0.9"/>
<line x1="442.52" y1="481.00" x2="445.72" y2="481.00" stroke="#222" stroke-width="0.9"/>
<line x1="442.52" y1="503.00" x2="445.72" y2="503.00" stroke="#222" stroke-width="0.9"/>
<circle cx="444.12" cy="471.80" r="1.28" fill="#000"/>
<circle cx="444.12" cy="493.00" r="1.28" fill="#000"/>
<circle cx="444.12" cy="509.50" r="1.28" fill="#000"/>
<line x1="454.04" y1="489.40" x2="454.04" y2="503.00" stroke="#222" stroke-width="0.9"/>
<line x1="452.44" y1="489.40" x2="455.64" y2="489.40" stroke="#222" stroke-width="0.9"/>
<line x1="452.44" y1="503.00" x2="455.64" y2="503.00" stroke="#222" stroke-width="0.9"/>
<circle cx="452.14" cy="489.40" r="1.28" fill="#000"/>
<circle cx="456.14" cy="489.40" r="1.28" fill="#000"/>
<circle cx="454.04" cy="508.00" r="1.28" fill="#000"/>
<line x1="463.96" y1="509.00" x2="463.96" y2="515.00" stroke="#222" stroke-width="0.9"/>
<line x1="462.36" y1="509.00" x2="465.56" y2="509.00" stroke="#222" stroke-width="0.9"/>
<line x1="462.36" y1="515.00" x2="465.56" y2="515.00" stroke="#222" stroke-width="0.9"/>
<circle cx="463.96" cy="506.70" r="1.28" fill="#000"/>
<circle cx="463.96" cy="510.00" r="1.28" fill="#000"/>
<circle cx="462.06" cy="513.00" r="1.28" fill="#000"/>
<circle cx="465.56" cy="513.50" r="1.28" fill="#000"/>
<circle cx="463.96" cy="517.50" r="1.28" fill="#000"/>
<line x1="473.88" y1="491.00" x2="473.88" y2="505.00" stroke="#222" stroke-width="0.9"/>
<line x1="472.28" y1="491.00" x2="475.48" y2="491.00" stroke="#222" stroke-width="0.9"/>
<line x1="472.28" y1="505.00" x2="475.48" y2="505.00" stroke="#222" stroke-width="0.9"/>
<circle cx="473.88" cy="486.00" r="1.28" fill="#000"/>
<circle cx="473.88" cy="499.00" r="1.28" fill="#000"/>
<circle cx="473.88" cy="505.50" r="1.28" fill="#000"/>
<line x1="493.72" y1="507.00" x2="493.72" y2="514.00" stroke="#222" stroke-width="0.9"/>
<line x1="492.12" y1="507.00" x2="495.32" y2="507.00" stroke="#222" stroke-width="0.9"/>
<line x1="492.12" y1="514.00" x2="495.32" y2="514.00" stroke="#222" stroke-width="0.9"/>
<circle cx="491.62" cy="506.00" r="1.28" fill="#000"/>
<circle cx="495.62" cy="504.00" r="1.28" fill="#000"/>
<circle cx="493.72" cy="509.00" r="1.28" fill="#000"/>
<circle cx="493.72" cy="512.50" r="1.28" fill="#000"/>
<circle cx="493.72" cy="517.50" r="1.28" fill="#000"/>
<line x1="503.64" y1="511.00" x2="503.64" y2="516.00" stroke="#222" stroke-width="0.9"/>
<line x1="502.04" y1="511.00" x2="505.24" y2="511.00" stroke="#222" stroke-width="0.9"/>
<line x1="502.04" y1="516.00" x2="505.24" y2="516.00" stroke="#222" stroke-width="0.9"/>
<circle cx="503.64" cy="508.70" r="1.28" fill="#000"/>
<circle cx="503.64" cy="512.00" r="1.28" fill="#000"/>
<circle cx="505.44" cy="514.00" r="1.28" fill="#000"/>
<circle cx="501.94" cy="515.50" r="1.28" fill="#000"/>
<line x1="328.40" y1="434.30" x2="328.40" y2="523.00" stroke="#222" stroke-width="1.3"/>
<line x1="327.80" y1="522.40" x2="510.20" y2="522.40" stroke="#222" stroke-width="1.2"/>
<line x1="325.40" y1="522.40" x2="328.40" y2="522.40" stroke="#222" stroke-width="1.0"/>
<text x="321.50" y="524.80" font-size="7.3" text-anchor="end" fill="#333" textLength="3.41" lengthAdjust="spacingAndGlyphs" stroke="#333" stroke-width="0.1">0</text>
<line x1="325.40" y1="485.20" x2="328.40" y2="485.20" stroke="#222" stroke-width="1.0"/>
<text x="321.50" y="487.60" font-size="7.3" text-anchor="end" fill="#333" textLength="3.41" lengthAdjust="spacingAndGlyphs" stroke="#333" stroke-width="0.1">5</text>
<line x1="325.40" y1="448.00" x2="328.40" y2="448.00" stroke="#222" stroke-width="1.0"/>
<text x="321.50" y="450.40" font-size="7.3" text-anchor="end" fill="#333" textLength="6.82" lengthAdjust="spacingAndGlyphs" stroke="#333" stroke-width="0.1">10</text>
<line x1="326.60" y1="503.80" x2="328.40" y2="503.80" stroke="#222" stroke-width="0.9"/>
<line x1="326.60" y1="466.60" x2="328.40" y2="466.60" stroke="#222" stroke-width="0.9"/>
<line x1="335.00" y1="522.40" x2="335.00" y2="525.20" stroke="#222" stroke-width="0.9"/>
<line x1="344.92" y1="522.40" x2="344.92" y2="525.20" stroke="#222" stroke-width="0.9"/>
<line x1="354.84" y1="522.40" x2="354.84" y2="525.20" stroke="#222" stroke-width="0.9"/>
<line x1="364.76" y1="522.40" x2="364.76" y2="525.20" stroke="#222" stroke-width="0.9"/>
<line x1="374.68" y1="522.40" x2="374.68" y2="525.20" stroke="#222" stroke-width="0.9"/>
<line x1="384.60" y1="522.40" x2="384.60" y2="525.20" stroke="#222" stroke-width="0.9"/>
<line x1="394.52" y1="522.40" x2="394.52" y2="525.20" stroke="#222" stroke-width="0.9"/>
<line x1="404.44" y1="522.40" x2="404.44" y2="525.20" stroke="#222" stroke-width="0.9"/>
<line x1="414.36" y1="522.40" x2="414.36" y2="525.20" stroke="#222" stroke-width="0.9"/>
<line x1="424.28" y1="522.40" x2="424.28" y2="525.20" stroke="#222" stroke-width="0.9"/>
<line x1="434.20" y1="522.40" x2="434.20" y2="525.20" stroke="#222" stroke-width="0.9"/>
<line x1="444.12" y1="522.40" x2="444.12" y2="525.20" stroke="#222" stroke-width="0.9"/>
<line x1="454.04" y1="522.40" x2="454.04" y2="525.20" stroke="#222" stroke-width="0.9"/>
<line x1="463.96" y1="522.40" x2="463.96" y2="525.20" stroke="#222" stroke-width="0.9"/>
<line x1="473.88" y1="522.40" x2="473.88" y2="525.20" stroke="#222" stroke-width="0.9"/>
<line x1="483.80" y1="522.40" x2="483.80" y2="525.20" stroke="#222" stroke-width="0.9"/>
<line x1="493.72" y1="522.40" x2="493.72" y2="525.20" stroke="#222" stroke-width="0.9"/>
<line x1="503.64" y1="522.40" x2="503.64" y2="525.20" stroke="#222" stroke-width="0.9"/>
<text x="338.20" y="532.40" font-size="6.8" text-anchor="end" fill="#333" transform="rotate(-45 338.20 532.40)" stroke="#333" stroke-width="0.28">WT</text>
<text x="348.12" y="532.40" font-size="6.8" text-anchor="end" fill="#333" transform="rotate(-45 348.12 532.40)" stroke="#333" stroke-width="0.28">C18W</text>
<text x="358.04" y="532.40" font-size="6.8" text-anchor="end" fill="#333" transform="rotate(-45 358.04 532.40)" stroke="#333" stroke-width="0.28">I21S</text>
<text x="367.96" y="532.40" font-size="6.8" text-anchor="end" fill="#333" transform="rotate(-45 367.96 532.40)" stroke="#333" stroke-width="0.28">A27T</text>
<text x="377.88" y="532.40" font-size="6.8" text-anchor="end" fill="#333" transform="rotate(-45 377.88 532.40)" stroke="#333" stroke-width="0.28">G30R</text>
<text x="387.80" y="532.40" font-size="6.8" text-anchor="end" fill="#333" transform="rotate(-45 387.80 532.40)" stroke="#333" stroke-width="0.28">A59S</text>
<text x="397.72" y="532.40" font-size="6.8" text-anchor="end" fill="#333" transform="rotate(-45 397.72 532.40)" stroke="#333" stroke-width="0.28">Q61R</text>
<text x="407.64" y="532.40" font-size="6.8" text-anchor="end" fill="#333" transform="rotate(-45 407.64 532.40)" stroke="#333" stroke-width="0.28">Q61K</text>
<text x="417.56" y="532.40" font-size="6.8" text-anchor="end" fill="#333" transform="rotate(-45 417.56 532.40)" stroke="#333" stroke-width="0.28">E62K</text>
<text x="427.48" y="532.40" font-size="6.8" text-anchor="end" fill="#333" transform="rotate(-45 427.48 532.40)" stroke="#333" stroke-width="0.28">E62K/D63N</text>
<text x="437.40" y="532.40" font-size="6.8" text-anchor="end" fill="#333" transform="rotate(-45 437.40 532.40)" stroke="#333" stroke-width="0.28">D63N</text>
<text x="447.32" y="532.40" font-size="6.8" text-anchor="end" fill="#333" transform="rotate(-45 447.32 532.40)" stroke="#333" stroke-width="0.28">R68W</text>
<text x="457.24" y="532.40" font-size="6.8" text-anchor="end" fill="#333" transform="rotate(-45 457.24 532.40)" stroke="#333" stroke-width="0.28">N92K</text>
<text x="467.16" y="532.40" font-size="6.8" text-anchor="end" fill="#333" transform="rotate(-45 467.16 532.40)" stroke="#333" stroke-width="0.28">N92S</text>
<text x="477.08" y="532.40" font-size="6.8" text-anchor="end" fill="#333" transform="rotate(-45 477.08 532.40)" stroke="#333" stroke-width="0.28">N92T</text>
<text x="487.00" y="532.40" font-size="6.8" text-anchor="end" fill="#333" transform="rotate(-45 487.00 532.40)" stroke="#333" stroke-width="0.28">R163*</text>
<text x="496.92" y="532.40" font-size="6.8" text-anchor="end" fill="#333" transform="rotate(-45 496.92 532.40)" stroke="#333" stroke-width="0.28">R174W</text>
<text x="506.84" y="532.40" font-size="6.8" text-anchor="end" fill="#333" transform="rotate(-45 506.84 532.40)" stroke="#333" stroke-width="0.28">P179L</text>
<text x="308.80" y="460.20" font-size="7.3" text-anchor="middle" fill="#333" transform="rotate(-90 308.80 460.20)" textLength="62" lengthAdjust="spacingAndGlyphs" stroke="#333" stroke-width="0.2">pAKT/RAC2/GAPDH</text>
<circle cx="344.92" cy="429.30" r="1.0" fill="#3a3a3a"/>
<circle cx="374.68" cy="429.30" r="1.0" fill="#3a3a3a"/>
<circle cx="394.52" cy="429.30" r="1.0" fill="#3a3a3a"/>
<circle cx="412.71" cy="429.30" r="1.0" fill="#3a3a3a"/>
<circle cx="416.01" cy="429.30" r="1.0" fill="#3a3a3a"/>
<circle cx="422.63" cy="429.30" r="1.0" fill="#3a3a3a"/>
<circle cx="425.93" cy="429.30" r="1.0" fill="#3a3a3a"/>
<circle cx="434.20" cy="429.30" r="1.0" fill="#3a3a3a"/>
<circle cx="442.47" cy="429.30" r="1.0" fill="#3a3a3a"/>
<circle cx="445.77" cy="429.30" r="1.0" fill="#3a3a3a"/>
<circle cx="452.39" cy="429.30" r="1.0" fill="#3a3a3a"/>
<circle cx="455.69" cy="429.30" r="1.0" fill="#3a3a3a"/>
<circle cx="472.23" cy="429.30" r="1.0" fill="#3a3a3a"/>
<circle cx="475.53" cy="429.30" r="1.0" fill="#3a3a3a"/>
<line x1="328.30" y1="398.00" x2="328.30" y2="430.20" stroke="#222" stroke-width="1.1"/>
<line x1="326.60" y1="430.20" x2="330.00" y2="430.20" stroke="#222" stroke-width="1.0"/>
<line x1="326.60" y1="434.50" x2="330.00" y2="434.50" stroke="#222" stroke-width="1.0"/>
<line x1="325.30" y1="425.71" x2="328.30" y2="425.71" stroke="#222" stroke-width="1.0"/>
<text x="321.50" y="428.11" font-size="7.3" text-anchor="end" fill="#333" textLength="6.82" lengthAdjust="spacingAndGlyphs" stroke="#333" stroke-width="0.1">15</text>
<line x1="325.30" y1="417.57" x2="328.30" y2="417.57" stroke="#222" stroke-width="1.0"/>
<text x="321.50" y="419.97" font-size="7.3" text-anchor="end" fill="#333" textLength="6.82" lengthAdjust="spacingAndGlyphs" stroke="#333" stroke-width="0.1">20</text>
<line x1="325.30" y1="409.44" x2="328.30" y2="409.44" stroke="#222" stroke-width="1.0"/>
<text x="321.50" y="411.83" font-size="7.3" text-anchor="end" fill="#333" textLength="6.82" lengthAdjust="spacingAndGlyphs" stroke="#333" stroke-width="0.1">25</text>
<line x1="325.30" y1="401.30" x2="328.30" y2="401.30" stroke="#222" stroke-width="1.0"/>
<text x="321.50" y="403.70" font-size="7.3" text-anchor="end" fill="#333" textLength="6.82" lengthAdjust="spacingAndGlyphs" stroke="#333" stroke-width="0.1">30</text>
<line x1="326.50" y1="421.64" x2="328.30" y2="421.64" stroke="#222" stroke-width="0.9"/>
<line x1="326.50" y1="413.50" x2="328.30" y2="413.50" stroke="#222" stroke-width="0.9"/>
<line x1="326.50" y1="405.37" x2="328.30" y2="405.37" stroke="#222" stroke-width="0.9"/>
</svg>
</body></html>
